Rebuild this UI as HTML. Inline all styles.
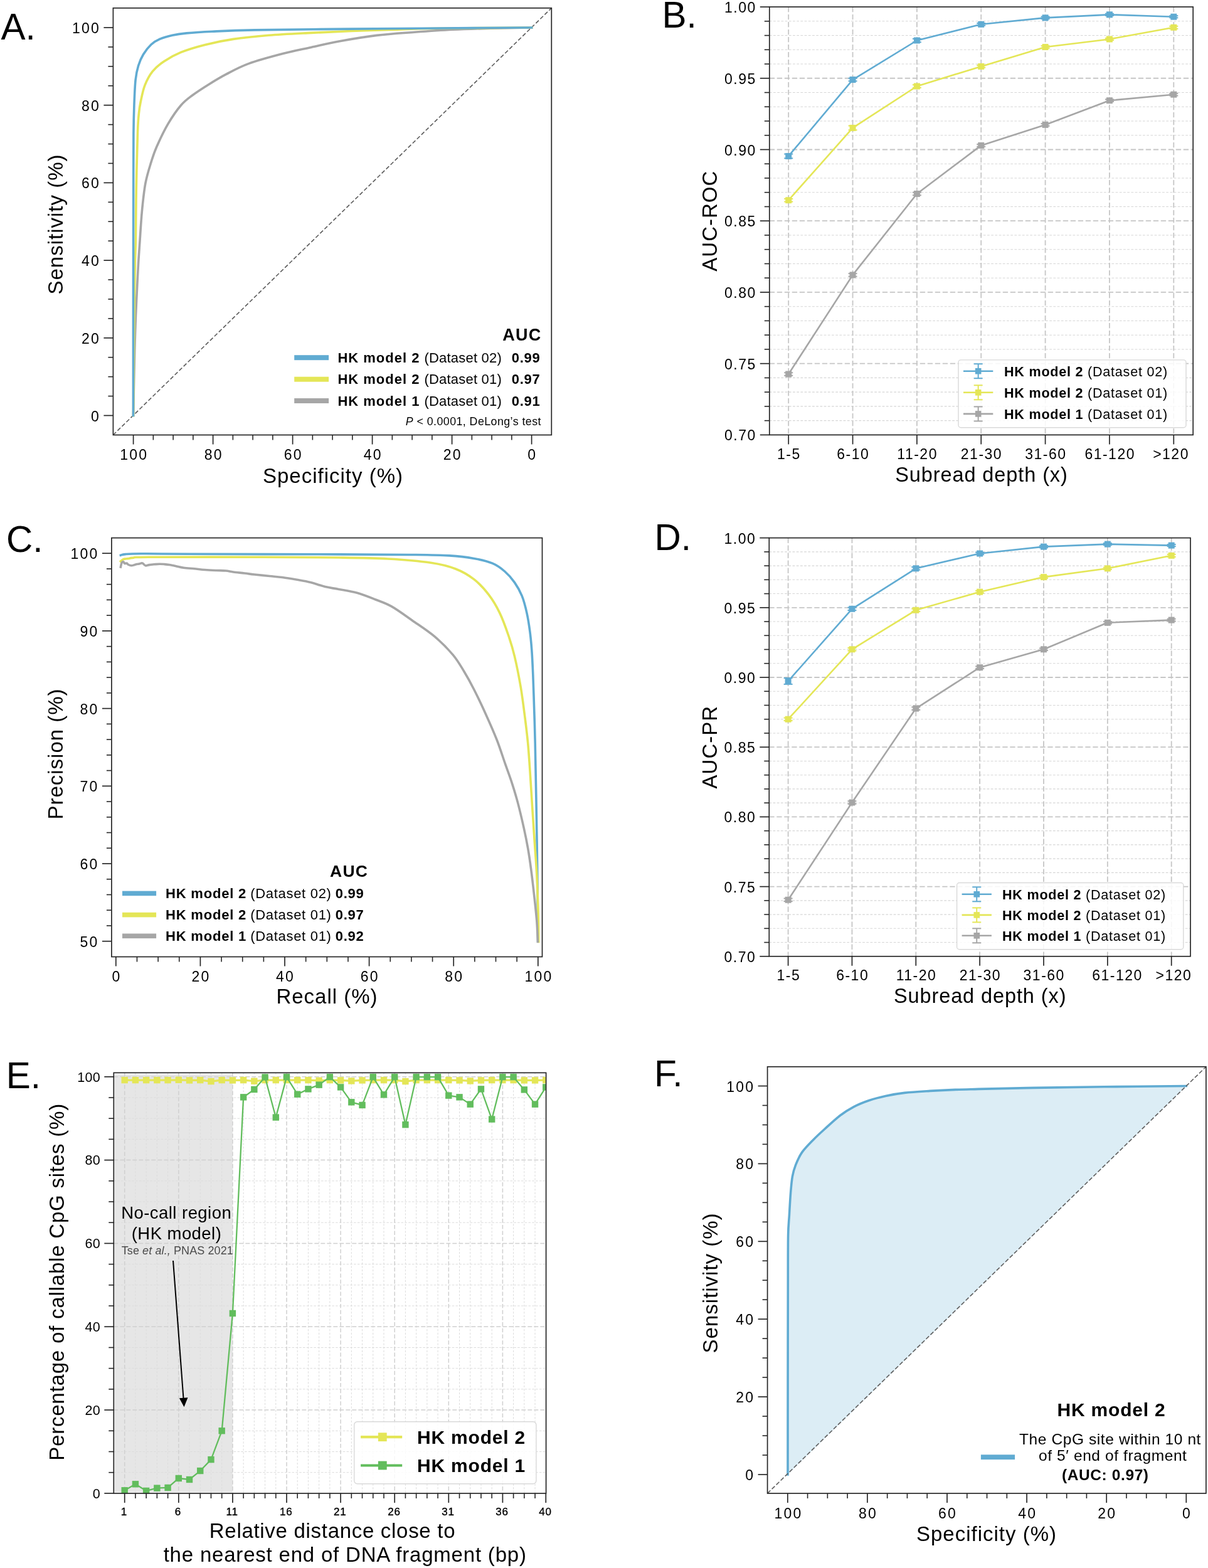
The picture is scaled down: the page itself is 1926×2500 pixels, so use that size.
<!DOCTYPE html>
<html><head><meta charset="utf-8"><title>Figure</title>
<style>html,body{margin:0;padding:0;background:#fff;overflow:hidden;width:1926px;height:2500px;}svg{display:block;}text{font-family:'Liberation Sans', Arial, sans-serif;}</style>
</head><body>
<svg width="1926" height="2500" viewBox="0 0 1926 2500">
<rect x="0" y="0" width="1926" height="2500" fill="#ffffff"/>
<line x1="180.4" y1="693.5" x2="879.3" y2="12.8" stroke="#5a5a5a" stroke-width="1.6" stroke-dasharray="6.4,3.4"/>
<path d="M212.6,662.5 C212.7,657.08 212.95,642.75 213.2,630 C213.45,617.25 213.78,600.2 214.1,586 C214.42,571.8 214.7,558.53 215.1,544.8 C215.5,531.07 215.95,517.33 216.5,503.6 C217.05,489.87 217.73,476.13 218.4,462.4 C219.07,448.67 219.8,433.27 220.5,421.2 C221.2,409.13 221.63,403.97 222.6,390 C223.57,376.03 224.75,353.7 226.3,337.4 C227.85,321.1 229.45,305.37 231.9,292.2 C234.35,279.03 237.98,268.18 241,258.4 C244.02,248.62 245.5,243.67 250,233.5 C254.5,223.33 261.6,208.32 268,197.4 C274.4,186.48 282,175.53 288.4,168 C294.8,160.47 298.88,157.83 306.4,152.2 C313.92,146.57 324.47,139.83 333.5,134.2 C342.53,128.57 350.07,123.87 360.6,118.4 C371.13,112.93 381.65,106.87 396.7,101.4 C411.75,95.93 434.33,89.92 450.9,85.6 C467.47,81.28 481.25,78.77 496.1,75.5 C510.95,72.23 522.58,69.18 540,66 C557.42,62.82 580.43,58.85 600.6,56.4 C620.77,53.95 640.8,52.82 661,51.3 C681.2,49.78 701.57,48.3 721.8,47.3 C742.03,46.3 761.43,45.85 782.4,45.3 C803.37,44.75 836.73,44.22 847.6,44" fill="none" stroke="#a6a6a6" stroke-width="3.6" stroke-linecap="square" stroke-linejoin="round"/>
<path d="M212.6,662.5 C212.73,645.42 213.13,590.42 213.4,560 C213.67,529.58 213.88,503.33 214.2,480 C214.52,456.67 214.93,436.67 215.3,420 C215.67,403.33 216.07,400 216.4,380 C216.73,360 216.78,328.33 217.3,300 C217.82,271.67 218.8,230 219.5,210 C220.2,190 220.75,187.75 221.5,180 C222.25,172.25 222.45,170.77 224,163.5 C225.55,156.23 227.6,144.67 230.8,136.4 C234,128.13 238.12,120.3 243.2,113.9 C248.28,107.5 253.77,103.08 261.3,98 C268.83,92.92 277.48,87.83 288.4,83.4 C299.32,78.97 312.88,74.9 326.8,71.4 C340.72,67.9 354.97,64.92 371.9,62.4 C388.83,59.88 407.7,57.97 428.4,56.3 C449.1,54.63 474.17,53.53 496.1,52.4 C518.03,51.27 539.35,50.32 560,49.5 C580.65,48.68 596.4,48.2 620,47.5 C643.6,46.8 663.67,45.88 701.6,45.3 C739.53,44.72 823.27,44.22 847.6,44" fill="none" stroke="#e4e657" stroke-width="3.6" stroke-linecap="square" stroke-linejoin="round"/>
<path d="M212.4,662.5 C212.42,627.08 212.45,510.42 212.5,450 C212.55,389.58 212.63,339.5 212.7,300 C212.77,260.5 212.7,235 212.9,213 C213.1,191 213.37,182.27 213.9,168 C214.43,153.73 214.98,137.93 216.1,127.4 C217.22,116.87 218.53,111.57 220.6,104.8 C222.67,98.03 225.1,92.43 228.5,86.8 C231.9,81.17 236.67,75.07 241,71 C245.33,66.93 248.87,64.85 254.5,62.4 C260.13,59.95 267.65,57.88 274.8,56.3 C281.95,54.72 286.87,53.92 297.4,52.9 C307.93,51.88 319.93,51.03 338,50.2 C356.07,49.37 368.8,48.58 405.8,47.9 C442.8,47.22 510.97,46.58 560,46.1 C609.03,45.62 652.07,45.35 700,45 C747.93,44.65 823,44.17 847.6,44" fill="none" stroke="#60abd2" stroke-width="3.6" stroke-linecap="square" stroke-linejoin="round"/>
<rect x="180.4" y="12.8" width="698.9" height="680.7" fill="none" stroke="#262626" stroke-width="1.7" />
<line x1="212.6" y1="693.5" x2="212.6" y2="708.5" stroke="#262626" stroke-width="1.7" />
<text x="213.7" y="732.5" font-size="23" text-anchor="middle" letter-spacing="2.2" fill="#000" >100</text>
<line x1="339.6" y1="693.5" x2="339.6" y2="708.5" stroke="#262626" stroke-width="1.7" />
<text x="340.7" y="732.5" font-size="23" text-anchor="middle" letter-spacing="2.2" fill="#000" >80</text>
<line x1="466.6" y1="693.5" x2="466.6" y2="708.5" stroke="#262626" stroke-width="1.7" />
<text x="467.7" y="732.5" font-size="23" text-anchor="middle" letter-spacing="2.2" fill="#000" >60</text>
<line x1="593.6" y1="693.5" x2="593.6" y2="708.5" stroke="#262626" stroke-width="1.7" />
<text x="594.7" y="732.5" font-size="23" text-anchor="middle" letter-spacing="2.2" fill="#000" >40</text>
<line x1="720.6" y1="693.5" x2="720.6" y2="708.5" stroke="#262626" stroke-width="1.7" />
<text x="721.7" y="732.5" font-size="23" text-anchor="middle" letter-spacing="2.2" fill="#000" >20</text>
<line x1="847.6" y1="693.5" x2="847.6" y2="708.5" stroke="#262626" stroke-width="1.7" />
<text x="848.7" y="732.5" font-size="23" text-anchor="middle" letter-spacing="2.2" fill="#000" >0</text>
<line x1="244.35" y1="693.5" x2="244.35" y2="701.5" stroke="#262626" stroke-width="1.6" />
<line x1="276.1" y1="693.5" x2="276.1" y2="701.5" stroke="#262626" stroke-width="1.6" />
<line x1="307.85" y1="693.5" x2="307.85" y2="701.5" stroke="#262626" stroke-width="1.6" />
<line x1="371.35" y1="693.5" x2="371.35" y2="701.5" stroke="#262626" stroke-width="1.6" />
<line x1="403.1" y1="693.5" x2="403.1" y2="701.5" stroke="#262626" stroke-width="1.6" />
<line x1="434.85" y1="693.5" x2="434.85" y2="701.5" stroke="#262626" stroke-width="1.6" />
<line x1="498.35" y1="693.5" x2="498.35" y2="701.5" stroke="#262626" stroke-width="1.6" />
<line x1="530.1" y1="693.5" x2="530.1" y2="701.5" stroke="#262626" stroke-width="1.6" />
<line x1="561.85" y1="693.5" x2="561.85" y2="701.5" stroke="#262626" stroke-width="1.6" />
<line x1="625.35" y1="693.5" x2="625.35" y2="701.5" stroke="#262626" stroke-width="1.6" />
<line x1="657.1" y1="693.5" x2="657.1" y2="701.5" stroke="#262626" stroke-width="1.6" />
<line x1="688.85" y1="693.5" x2="688.85" y2="701.5" stroke="#262626" stroke-width="1.6" />
<line x1="752.35" y1="693.5" x2="752.35" y2="701.5" stroke="#262626" stroke-width="1.6" />
<line x1="784.1" y1="693.5" x2="784.1" y2="701.5" stroke="#262626" stroke-width="1.6" />
<line x1="815.85" y1="693.5" x2="815.85" y2="701.5" stroke="#262626" stroke-width="1.6" />
<line x1="165.4" y1="662.5" x2="180.4" y2="662.5" stroke="#262626" stroke-width="1.7" />
<text x="160.1" y="671.5" font-size="23" text-anchor="end" letter-spacing="2.2" fill="#000" >0</text>
<line x1="165.4" y1="538.8" x2="180.4" y2="538.8" stroke="#262626" stroke-width="1.7" />
<text x="160.1" y="547.8" font-size="23" text-anchor="end" letter-spacing="2.2" fill="#000" >20</text>
<line x1="165.4" y1="415.1" x2="180.4" y2="415.1" stroke="#262626" stroke-width="1.7" />
<text x="160.1" y="424.1" font-size="23" text-anchor="end" letter-spacing="2.2" fill="#000" >40</text>
<line x1="165.4" y1="291.4" x2="180.4" y2="291.4" stroke="#262626" stroke-width="1.7" />
<text x="160.1" y="300.4" font-size="23" text-anchor="end" letter-spacing="2.2" fill="#000" >60</text>
<line x1="165.4" y1="167.7" x2="180.4" y2="167.7" stroke="#262626" stroke-width="1.7" />
<text x="160.1" y="176.7" font-size="23" text-anchor="end" letter-spacing="2.2" fill="#000" >80</text>
<line x1="165.4" y1="44" x2="180.4" y2="44" stroke="#262626" stroke-width="1.7" />
<text x="160.1" y="53" font-size="23" text-anchor="end" letter-spacing="2.2" fill="#000" >100</text>
<line x1="172.4" y1="631.58" x2="180.4" y2="631.58" stroke="#262626" stroke-width="1.6" />
<line x1="172.4" y1="600.65" x2="180.4" y2="600.65" stroke="#262626" stroke-width="1.6" />
<line x1="172.4" y1="569.73" x2="180.4" y2="569.73" stroke="#262626" stroke-width="1.6" />
<line x1="172.4" y1="507.88" x2="180.4" y2="507.88" stroke="#262626" stroke-width="1.6" />
<line x1="172.4" y1="476.95" x2="180.4" y2="476.95" stroke="#262626" stroke-width="1.6" />
<line x1="172.4" y1="446.02" x2="180.4" y2="446.02" stroke="#262626" stroke-width="1.6" />
<line x1="172.4" y1="384.18" x2="180.4" y2="384.18" stroke="#262626" stroke-width="1.6" />
<line x1="172.4" y1="353.25" x2="180.4" y2="353.25" stroke="#262626" stroke-width="1.6" />
<line x1="172.4" y1="322.33" x2="180.4" y2="322.33" stroke="#262626" stroke-width="1.6" />
<line x1="172.4" y1="260.48" x2="180.4" y2="260.48" stroke="#262626" stroke-width="1.6" />
<line x1="172.4" y1="229.55" x2="180.4" y2="229.55" stroke="#262626" stroke-width="1.6" />
<line x1="172.4" y1="198.63" x2="180.4" y2="198.63" stroke="#262626" stroke-width="1.6" />
<line x1="172.4" y1="136.77" x2="180.4" y2="136.77" stroke="#262626" stroke-width="1.6" />
<line x1="172.4" y1="105.85" x2="180.4" y2="105.85" stroke="#262626" stroke-width="1.6" />
<line x1="172.4" y1="74.93" x2="180.4" y2="74.93" stroke="#262626" stroke-width="1.6" />
<text x="1.5" y="63" font-size="58.5" text-anchor="start" fill="#000" >A.</text>
<text x="100" y="357.5" font-size="33" text-anchor="middle" letter-spacing="1" fill="#000" transform="rotate(-90 100 357.5)" >Sensitivity (%)</text>
<text x="531" y="770" font-size="33" text-anchor="middle" letter-spacing="1" fill="#000" >Specificity (%)</text>
<text x="863.6" y="543" font-size="27" font-weight="bold" text-anchor="end" letter-spacing="1.3" fill="#000" >AUC</text>
<rect x="469.2" y="566.2" width="54.9" height="8" fill="#60abd2" stroke="none" stroke-width="1" />
<text x="538.4" y="578" font-size="22" font-weight="bold" text-anchor="start" letter-spacing="1" fill="#000" >HK model 2</text>
<text x="676.5" y="578" font-size="22" text-anchor="start" letter-spacing="0.2" fill="#000" >(Dataset 02)</text>
<text x="815.8" y="578" font-size="22" font-weight="bold" text-anchor="start" letter-spacing="0.7" fill="#000" >0.99</text>
<rect x="469.2" y="600.7" width="54.9" height="8" fill="#e4e657" stroke="none" stroke-width="1" />
<text x="538.4" y="612.4" font-size="22" font-weight="bold" text-anchor="start" letter-spacing="1" fill="#000" >HK model 2</text>
<text x="676.5" y="612.4" font-size="22" text-anchor="start" letter-spacing="0.2" fill="#000" >(Dataset 01)</text>
<text x="815.8" y="612.4" font-size="22" font-weight="bold" text-anchor="start" letter-spacing="0.7" fill="#000" >0.97</text>
<rect x="469.2" y="635" width="54.9" height="8" fill="#a6a6a6" stroke="none" stroke-width="1" />
<text x="538.4" y="647" font-size="22" font-weight="bold" text-anchor="start" letter-spacing="1" fill="#000" >HK model 1</text>
<text x="676.5" y="647" font-size="22" text-anchor="start" letter-spacing="0.2" fill="#000" >(Dataset 01)</text>
<text x="815.8" y="647" font-size="22" font-weight="bold" text-anchor="start" letter-spacing="0.7" fill="#000" >0.91</text>
<text x="862.9" y="678" font-size="17.8" text-anchor="end" letter-spacing="0.45" fill="#000" ><tspan font-style="italic">P</tspan> &lt; 0.0001, DeLong’s test</text>
<line x1="1226.8" y1="670.65" x2="1902.2" y2="670.65" stroke="#d6d6d6" stroke-width="1.1" stroke-dasharray="3.8,2.4"/>
<line x1="1226.8" y1="647.91" x2="1902.2" y2="647.91" stroke="#d6d6d6" stroke-width="1.1" stroke-dasharray="3.8,2.4"/>
<line x1="1226.8" y1="625.16" x2="1902.2" y2="625.16" stroke="#d6d6d6" stroke-width="1.1" stroke-dasharray="3.8,2.4"/>
<line x1="1226.8" y1="602.42" x2="1902.2" y2="602.42" stroke="#d6d6d6" stroke-width="1.1" stroke-dasharray="3.8,2.4"/>
<line x1="1226.8" y1="556.93" x2="1902.2" y2="556.93" stroke="#d6d6d6" stroke-width="1.1" stroke-dasharray="3.8,2.4"/>
<line x1="1226.8" y1="534.18" x2="1902.2" y2="534.18" stroke="#d6d6d6" stroke-width="1.1" stroke-dasharray="3.8,2.4"/>
<line x1="1226.8" y1="511.44" x2="1902.2" y2="511.44" stroke="#d6d6d6" stroke-width="1.1" stroke-dasharray="3.8,2.4"/>
<line x1="1226.8" y1="488.69" x2="1902.2" y2="488.69" stroke="#d6d6d6" stroke-width="1.1" stroke-dasharray="3.8,2.4"/>
<line x1="1226.8" y1="443.2" x2="1902.2" y2="443.2" stroke="#d6d6d6" stroke-width="1.1" stroke-dasharray="3.8,2.4"/>
<line x1="1226.8" y1="420.46" x2="1902.2" y2="420.46" stroke="#d6d6d6" stroke-width="1.1" stroke-dasharray="3.8,2.4"/>
<line x1="1226.8" y1="397.71" x2="1902.2" y2="397.71" stroke="#d6d6d6" stroke-width="1.1" stroke-dasharray="3.8,2.4"/>
<line x1="1226.8" y1="374.97" x2="1902.2" y2="374.97" stroke="#d6d6d6" stroke-width="1.1" stroke-dasharray="3.8,2.4"/>
<line x1="1226.8" y1="329.48" x2="1902.2" y2="329.48" stroke="#d6d6d6" stroke-width="1.1" stroke-dasharray="3.8,2.4"/>
<line x1="1226.8" y1="306.73" x2="1902.2" y2="306.73" stroke="#d6d6d6" stroke-width="1.1" stroke-dasharray="3.8,2.4"/>
<line x1="1226.8" y1="283.99" x2="1902.2" y2="283.99" stroke="#d6d6d6" stroke-width="1.1" stroke-dasharray="3.8,2.4"/>
<line x1="1226.8" y1="261.24" x2="1902.2" y2="261.24" stroke="#d6d6d6" stroke-width="1.1" stroke-dasharray="3.8,2.4"/>
<line x1="1226.8" y1="215.75" x2="1902.2" y2="215.75" stroke="#d6d6d6" stroke-width="1.1" stroke-dasharray="3.8,2.4"/>
<line x1="1226.8" y1="193.01" x2="1902.2" y2="193.01" stroke="#d6d6d6" stroke-width="1.1" stroke-dasharray="3.8,2.4"/>
<line x1="1226.8" y1="170.26" x2="1902.2" y2="170.26" stroke="#d6d6d6" stroke-width="1.1" stroke-dasharray="3.8,2.4"/>
<line x1="1226.8" y1="147.52" x2="1902.2" y2="147.52" stroke="#d6d6d6" stroke-width="1.1" stroke-dasharray="3.8,2.4"/>
<line x1="1226.8" y1="102.03" x2="1902.2" y2="102.03" stroke="#d6d6d6" stroke-width="1.1" stroke-dasharray="3.8,2.4"/>
<line x1="1226.8" y1="79.28" x2="1902.2" y2="79.28" stroke="#d6d6d6" stroke-width="1.1" stroke-dasharray="3.8,2.4"/>
<line x1="1226.8" y1="56.54" x2="1902.2" y2="56.54" stroke="#d6d6d6" stroke-width="1.1" stroke-dasharray="3.8,2.4"/>
<line x1="1226.8" y1="33.79" x2="1902.2" y2="33.79" stroke="#d6d6d6" stroke-width="1.1" stroke-dasharray="3.8,2.4"/>
<line x1="1226.8" y1="579.67" x2="1902.2" y2="579.67" stroke="#c6c6c6" stroke-width="1.8" stroke-dasharray="8.3,3.7"/>
<line x1="1226.8" y1="465.95" x2="1902.2" y2="465.95" stroke="#c6c6c6" stroke-width="1.8" stroke-dasharray="8.3,3.7"/>
<line x1="1226.8" y1="352.22" x2="1902.2" y2="352.22" stroke="#c6c6c6" stroke-width="1.8" stroke-dasharray="8.3,3.7"/>
<line x1="1226.8" y1="238.5" x2="1902.2" y2="238.5" stroke="#c6c6c6" stroke-width="1.8" stroke-dasharray="8.3,3.7"/>
<line x1="1226.8" y1="124.77" x2="1902.2" y2="124.77" stroke="#c6c6c6" stroke-width="1.8" stroke-dasharray="8.3,3.7"/>
<line x1="1257.2" y1="11" x2="1257.2" y2="693.4" stroke="#c6c6c6" stroke-width="1.8" stroke-dasharray="8.3,3.7"/>
<line x1="1359.55" y1="11" x2="1359.55" y2="693.4" stroke="#c6c6c6" stroke-width="1.8" stroke-dasharray="8.3,3.7"/>
<line x1="1461.9" y1="11" x2="1461.9" y2="693.4" stroke="#c6c6c6" stroke-width="1.8" stroke-dasharray="8.3,3.7"/>
<line x1="1564.25" y1="11" x2="1564.25" y2="693.4" stroke="#c6c6c6" stroke-width="1.8" stroke-dasharray="8.3,3.7"/>
<line x1="1666.6" y1="11" x2="1666.6" y2="693.4" stroke="#c6c6c6" stroke-width="1.8" stroke-dasharray="8.3,3.7"/>
<line x1="1768.95" y1="11" x2="1768.95" y2="693.4" stroke="#c6c6c6" stroke-width="1.8" stroke-dasharray="8.3,3.7"/>
<line x1="1871.3" y1="11" x2="1871.3" y2="693.4" stroke="#c6c6c6" stroke-width="1.8" stroke-dasharray="8.3,3.7"/>
<path d="M1257.2,596.51 L1359.55,438.43 L1461.9,309.01 L1564.25,231.9 L1666.6,198.92 L1768.95,160.26 L1871.3,150.7" fill="none" stroke="#a6a6a6" stroke-width="2.6" stroke-linejoin="round"/>
<line x1="1257.2" y1="594.23" x2="1257.2" y2="598.78" stroke="#a6a6a6" stroke-width="2" />
<line x1="1250.2" y1="594.23" x2="1264.2" y2="594.23" stroke="#a6a6a6" stroke-width="2" />
<line x1="1250.2" y1="598.78" x2="1264.2" y2="598.78" stroke="#a6a6a6" stroke-width="2" />
<rect x="1252.2" y="591.51" width="10" height="10" fill="#a6a6a6" stroke="none" stroke-width="1" />
<line x1="1359.55" y1="436.15" x2="1359.55" y2="440.7" stroke="#a6a6a6" stroke-width="2" />
<line x1="1352.55" y1="436.15" x2="1366.55" y2="436.15" stroke="#a6a6a6" stroke-width="2" />
<line x1="1352.55" y1="440.7" x2="1366.55" y2="440.7" stroke="#a6a6a6" stroke-width="2" />
<rect x="1354.55" y="433.43" width="10" height="10" fill="#a6a6a6" stroke="none" stroke-width="1" />
<line x1="1461.9" y1="306.73" x2="1461.9" y2="311.28" stroke="#a6a6a6" stroke-width="2" />
<line x1="1454.9" y1="306.73" x2="1468.9" y2="306.73" stroke="#a6a6a6" stroke-width="2" />
<line x1="1454.9" y1="311.28" x2="1468.9" y2="311.28" stroke="#a6a6a6" stroke-width="2" />
<rect x="1456.9" y="304.01" width="10" height="10" fill="#a6a6a6" stroke="none" stroke-width="1" />
<line x1="1564.25" y1="230.08" x2="1564.25" y2="233.72" stroke="#a6a6a6" stroke-width="2" />
<line x1="1557.25" y1="230.08" x2="1571.25" y2="230.08" stroke="#a6a6a6" stroke-width="2" />
<line x1="1557.25" y1="233.72" x2="1571.25" y2="233.72" stroke="#a6a6a6" stroke-width="2" />
<rect x="1559.25" y="226.9" width="10" height="10" fill="#a6a6a6" stroke="none" stroke-width="1" />
<line x1="1666.6" y1="197.1" x2="1666.6" y2="200.74" stroke="#a6a6a6" stroke-width="2" />
<line x1="1659.6" y1="197.1" x2="1673.6" y2="197.1" stroke="#a6a6a6" stroke-width="2" />
<line x1="1659.6" y1="200.74" x2="1673.6" y2="200.74" stroke="#a6a6a6" stroke-width="2" />
<rect x="1661.6" y="193.92" width="10" height="10" fill="#a6a6a6" stroke="none" stroke-width="1" />
<line x1="1768.95" y1="158.44" x2="1768.95" y2="162.08" stroke="#a6a6a6" stroke-width="2" />
<line x1="1761.95" y1="158.44" x2="1775.95" y2="158.44" stroke="#a6a6a6" stroke-width="2" />
<line x1="1761.95" y1="162.08" x2="1775.95" y2="162.08" stroke="#a6a6a6" stroke-width="2" />
<rect x="1763.95" y="155.26" width="10" height="10" fill="#a6a6a6" stroke="none" stroke-width="1" />
<line x1="1871.3" y1="148.88" x2="1871.3" y2="152.52" stroke="#a6a6a6" stroke-width="2" />
<line x1="1864.3" y1="148.88" x2="1878.3" y2="148.88" stroke="#a6a6a6" stroke-width="2" />
<line x1="1864.3" y1="152.52" x2="1878.3" y2="152.52" stroke="#a6a6a6" stroke-width="2" />
<rect x="1866.3" y="145.7" width="10" height="10" fill="#a6a6a6" stroke="none" stroke-width="1" />
<path d="M1257.2,319.24 L1359.55,203.93 L1461.9,137.51 L1564.25,105.9 L1666.6,74.96 L1768.95,62.45 L1871.3,43.8" fill="none" stroke="#e4e657" stroke-width="2.6" stroke-linejoin="round"/>
<line x1="1257.2" y1="316.97" x2="1257.2" y2="321.52" stroke="#e4e657" stroke-width="2" />
<line x1="1250.2" y1="316.97" x2="1264.2" y2="316.97" stroke="#e4e657" stroke-width="2" />
<line x1="1250.2" y1="321.52" x2="1264.2" y2="321.52" stroke="#e4e657" stroke-width="2" />
<rect x="1252.2" y="314.24" width="10" height="10" fill="#e4e657" stroke="none" stroke-width="1" />
<line x1="1359.55" y1="200.52" x2="1359.55" y2="207.34" stroke="#e4e657" stroke-width="2" />
<line x1="1352.55" y1="200.52" x2="1366.55" y2="200.52" stroke="#e4e657" stroke-width="2" />
<line x1="1352.55" y1="207.34" x2="1366.55" y2="207.34" stroke="#e4e657" stroke-width="2" />
<rect x="1354.55" y="198.93" width="10" height="10" fill="#e4e657" stroke="none" stroke-width="1" />
<line x1="1461.9" y1="135.24" x2="1461.9" y2="139.79" stroke="#e4e657" stroke-width="2" />
<line x1="1454.9" y1="135.24" x2="1468.9" y2="135.24" stroke="#e4e657" stroke-width="2" />
<line x1="1454.9" y1="139.79" x2="1468.9" y2="139.79" stroke="#e4e657" stroke-width="2" />
<rect x="1456.9" y="132.51" width="10" height="10" fill="#e4e657" stroke="none" stroke-width="1" />
<line x1="1564.25" y1="104.08" x2="1564.25" y2="107.72" stroke="#e4e657" stroke-width="2" />
<line x1="1557.25" y1="104.08" x2="1571.25" y2="104.08" stroke="#e4e657" stroke-width="2" />
<line x1="1557.25" y1="107.72" x2="1571.25" y2="107.72" stroke="#e4e657" stroke-width="2" />
<rect x="1559.25" y="100.9" width="10" height="10" fill="#e4e657" stroke="none" stroke-width="1" />
<line x1="1666.6" y1="73.14" x2="1666.6" y2="76.78" stroke="#e4e657" stroke-width="2" />
<line x1="1659.6" y1="73.14" x2="1673.6" y2="73.14" stroke="#e4e657" stroke-width="2" />
<line x1="1659.6" y1="76.78" x2="1673.6" y2="76.78" stroke="#e4e657" stroke-width="2" />
<rect x="1661.6" y="69.96" width="10" height="10" fill="#e4e657" stroke="none" stroke-width="1" />
<line x1="1768.95" y1="60.86" x2="1768.95" y2="64.05" stroke="#e4e657" stroke-width="2" />
<line x1="1761.95" y1="60.86" x2="1775.95" y2="60.86" stroke="#e4e657" stroke-width="2" />
<line x1="1761.95" y1="64.05" x2="1775.95" y2="64.05" stroke="#e4e657" stroke-width="2" />
<rect x="1763.95" y="57.45" width="10" height="10" fill="#e4e657" stroke="none" stroke-width="1" />
<line x1="1871.3" y1="41.76" x2="1871.3" y2="45.85" stroke="#e4e657" stroke-width="2" />
<line x1="1864.3" y1="41.76" x2="1878.3" y2="41.76" stroke="#e4e657" stroke-width="2" />
<line x1="1864.3" y1="45.85" x2="1878.3" y2="45.85" stroke="#e4e657" stroke-width="2" />
<rect x="1866.3" y="38.8" width="10" height="10" fill="#e4e657" stroke="none" stroke-width="1" />
<path d="M1257.2,248.96 L1359.55,127.05 L1461.9,64.5 L1564.25,38.8 L1666.6,28.34 L1768.95,23.33 L1871.3,26.74" fill="none" stroke="#60abd2" stroke-width="2.6" stroke-linejoin="round"/>
<line x1="1257.2" y1="245.55" x2="1257.2" y2="252.37" stroke="#60abd2" stroke-width="2" />
<line x1="1250.2" y1="245.55" x2="1264.2" y2="245.55" stroke="#60abd2" stroke-width="2" />
<line x1="1250.2" y1="252.37" x2="1264.2" y2="252.37" stroke="#60abd2" stroke-width="2" />
<rect x="1252.2" y="243.96" width="10" height="10" fill="#60abd2" stroke="none" stroke-width="1" />
<line x1="1359.55" y1="124.77" x2="1359.55" y2="129.32" stroke="#60abd2" stroke-width="2" />
<line x1="1352.55" y1="124.77" x2="1366.55" y2="124.77" stroke="#60abd2" stroke-width="2" />
<line x1="1352.55" y1="129.32" x2="1366.55" y2="129.32" stroke="#60abd2" stroke-width="2" />
<rect x="1354.55" y="122.05" width="10" height="10" fill="#60abd2" stroke="none" stroke-width="1" />
<line x1="1461.9" y1="61.77" x2="1461.9" y2="67.23" stroke="#60abd2" stroke-width="2" />
<line x1="1454.9" y1="61.77" x2="1468.9" y2="61.77" stroke="#60abd2" stroke-width="2" />
<line x1="1454.9" y1="67.23" x2="1468.9" y2="67.23" stroke="#60abd2" stroke-width="2" />
<rect x="1456.9" y="59.5" width="10" height="10" fill="#60abd2" stroke="none" stroke-width="1" />
<line x1="1564.25" y1="36.98" x2="1564.25" y2="40.62" stroke="#60abd2" stroke-width="2" />
<line x1="1557.25" y1="36.98" x2="1571.25" y2="36.98" stroke="#60abd2" stroke-width="2" />
<line x1="1557.25" y1="40.62" x2="1571.25" y2="40.62" stroke="#60abd2" stroke-width="2" />
<rect x="1559.25" y="33.8" width="10" height="10" fill="#60abd2" stroke="none" stroke-width="1" />
<line x1="1666.6" y1="26.52" x2="1666.6" y2="30.16" stroke="#60abd2" stroke-width="2" />
<line x1="1659.6" y1="26.52" x2="1673.6" y2="26.52" stroke="#60abd2" stroke-width="2" />
<line x1="1659.6" y1="30.16" x2="1673.6" y2="30.16" stroke="#60abd2" stroke-width="2" />
<rect x="1661.6" y="23.34" width="10" height="10" fill="#60abd2" stroke="none" stroke-width="1" />
<line x1="1768.95" y1="21.74" x2="1768.95" y2="24.92" stroke="#60abd2" stroke-width="2" />
<line x1="1761.95" y1="21.74" x2="1775.95" y2="21.74" stroke="#60abd2" stroke-width="2" />
<line x1="1761.95" y1="24.92" x2="1775.95" y2="24.92" stroke="#60abd2" stroke-width="2" />
<rect x="1763.95" y="18.33" width="10" height="10" fill="#60abd2" stroke="none" stroke-width="1" />
<line x1="1871.3" y1="25.15" x2="1871.3" y2="28.34" stroke="#60abd2" stroke-width="2" />
<line x1="1864.3" y1="25.15" x2="1878.3" y2="25.15" stroke="#60abd2" stroke-width="2" />
<line x1="1864.3" y1="28.34" x2="1878.3" y2="28.34" stroke="#60abd2" stroke-width="2" />
<rect x="1866.3" y="21.74" width="10" height="10" fill="#60abd2" stroke="none" stroke-width="1" />
<rect x="1226.8" y="11" width="675.4" height="682.4" fill="none" stroke="#262626" stroke-width="1.7" />
<line x1="1257.2" y1="693.4" x2="1257.2" y2="708.4" stroke="#262626" stroke-width="1.7" />
<text x="1257.95" y="731.5" font-size="23" text-anchor="middle" letter-spacing="1.5" fill="#000" >1-5</text>
<line x1="1359.55" y1="693.4" x2="1359.55" y2="708.4" stroke="#262626" stroke-width="1.7" />
<text x="1360.3" y="731.5" font-size="23" text-anchor="middle" letter-spacing="1.5" fill="#000" >6-10</text>
<line x1="1461.9" y1="693.4" x2="1461.9" y2="708.4" stroke="#262626" stroke-width="1.7" />
<text x="1462.65" y="731.5" font-size="23" text-anchor="middle" letter-spacing="1.5" fill="#000" >11-20</text>
<line x1="1564.25" y1="693.4" x2="1564.25" y2="708.4" stroke="#262626" stroke-width="1.7" />
<text x="1565" y="731.5" font-size="23" text-anchor="middle" letter-spacing="1.5" fill="#000" >21-30</text>
<line x1="1666.6" y1="693.4" x2="1666.6" y2="708.4" stroke="#262626" stroke-width="1.7" />
<text x="1667.35" y="731.5" font-size="23" text-anchor="middle" letter-spacing="1.5" fill="#000" >31-60</text>
<line x1="1768.95" y1="693.4" x2="1768.95" y2="708.4" stroke="#262626" stroke-width="1.7" />
<text x="1769.7" y="731.5" font-size="23" text-anchor="middle" letter-spacing="1.5" fill="#000" >61-120</text>
<line x1="1871.3" y1="693.4" x2="1871.3" y2="708.4" stroke="#262626" stroke-width="1.7" />
<text x="1867.05" y="731.5" font-size="23" text-anchor="middle" letter-spacing="1.5" fill="#000" >&gt;120</text>
<line x1="1211.8" y1="693.4" x2="1226.8" y2="693.4" stroke="#262626" stroke-width="1.7" />
<text x="1205.8" y="702.4" font-size="23" text-anchor="end" letter-spacing="1.5" fill="#000" >0.70</text>
<line x1="1211.8" y1="579.67" x2="1226.8" y2="579.67" stroke="#262626" stroke-width="1.7" />
<text x="1205.8" y="588.67" font-size="23" text-anchor="end" letter-spacing="1.5" fill="#000" >0.75</text>
<line x1="1211.8" y1="465.95" x2="1226.8" y2="465.95" stroke="#262626" stroke-width="1.7" />
<text x="1205.8" y="474.95" font-size="23" text-anchor="end" letter-spacing="1.5" fill="#000" >0.80</text>
<line x1="1211.8" y1="352.22" x2="1226.8" y2="352.22" stroke="#262626" stroke-width="1.7" />
<text x="1205.8" y="361.22" font-size="23" text-anchor="end" letter-spacing="1.5" fill="#000" >0.85</text>
<line x1="1211.8" y1="238.5" x2="1226.8" y2="238.5" stroke="#262626" stroke-width="1.7" />
<text x="1205.8" y="247.5" font-size="23" text-anchor="end" letter-spacing="1.5" fill="#000" >0.90</text>
<line x1="1211.8" y1="124.77" x2="1226.8" y2="124.77" stroke="#262626" stroke-width="1.7" />
<text x="1205.8" y="133.77" font-size="23" text-anchor="end" letter-spacing="1.5" fill="#000" >0.95</text>
<line x1="1211.8" y1="11.05" x2="1226.8" y2="11.05" stroke="#262626" stroke-width="1.7" />
<text x="1205.8" y="20.05" font-size="23" text-anchor="end" letter-spacing="1.5" fill="#000" >1.00</text>
<line x1="1218.8" y1="670.65" x2="1226.8" y2="670.65" stroke="#262626" stroke-width="1.6" />
<line x1="1218.8" y1="647.91" x2="1226.8" y2="647.91" stroke="#262626" stroke-width="1.6" />
<line x1="1218.8" y1="625.16" x2="1226.8" y2="625.16" stroke="#262626" stroke-width="1.6" />
<line x1="1218.8" y1="602.42" x2="1226.8" y2="602.42" stroke="#262626" stroke-width="1.6" />
<line x1="1218.8" y1="556.93" x2="1226.8" y2="556.93" stroke="#262626" stroke-width="1.6" />
<line x1="1218.8" y1="534.18" x2="1226.8" y2="534.18" stroke="#262626" stroke-width="1.6" />
<line x1="1218.8" y1="511.44" x2="1226.8" y2="511.44" stroke="#262626" stroke-width="1.6" />
<line x1="1218.8" y1="488.69" x2="1226.8" y2="488.69" stroke="#262626" stroke-width="1.6" />
<line x1="1218.8" y1="443.2" x2="1226.8" y2="443.2" stroke="#262626" stroke-width="1.6" />
<line x1="1218.8" y1="420.46" x2="1226.8" y2="420.46" stroke="#262626" stroke-width="1.6" />
<line x1="1218.8" y1="397.71" x2="1226.8" y2="397.71" stroke="#262626" stroke-width="1.6" />
<line x1="1218.8" y1="374.97" x2="1226.8" y2="374.97" stroke="#262626" stroke-width="1.6" />
<line x1="1218.8" y1="329.48" x2="1226.8" y2="329.48" stroke="#262626" stroke-width="1.6" />
<line x1="1218.8" y1="306.73" x2="1226.8" y2="306.73" stroke="#262626" stroke-width="1.6" />
<line x1="1218.8" y1="283.99" x2="1226.8" y2="283.99" stroke="#262626" stroke-width="1.6" />
<line x1="1218.8" y1="261.24" x2="1226.8" y2="261.24" stroke="#262626" stroke-width="1.6" />
<line x1="1218.8" y1="215.75" x2="1226.8" y2="215.75" stroke="#262626" stroke-width="1.6" />
<line x1="1218.8" y1="193.01" x2="1226.8" y2="193.01" stroke="#262626" stroke-width="1.6" />
<line x1="1218.8" y1="170.26" x2="1226.8" y2="170.26" stroke="#262626" stroke-width="1.6" />
<line x1="1218.8" y1="147.52" x2="1226.8" y2="147.52" stroke="#262626" stroke-width="1.6" />
<line x1="1218.8" y1="102.03" x2="1226.8" y2="102.03" stroke="#262626" stroke-width="1.6" />
<line x1="1218.8" y1="79.28" x2="1226.8" y2="79.28" stroke="#262626" stroke-width="1.6" />
<line x1="1218.8" y1="56.54" x2="1226.8" y2="56.54" stroke="#262626" stroke-width="1.6" />
<line x1="1218.8" y1="33.79" x2="1226.8" y2="33.79" stroke="#262626" stroke-width="1.6" />
<text x="1055.5" y="43.7" font-size="58.5" text-anchor="start" fill="#000" >B.</text>
<text x="1143.5" y="352.2" font-size="33" text-anchor="middle" letter-spacing="1" fill="#000" transform="rotate(-90 1143.5 352.2)" >AUC-ROC</text>
<text x="1565" y="768.3" font-size="32.5" text-anchor="middle" letter-spacing="0.9" fill="#000" >Subread depth (x)</text>
<rect x="1528" y="573.9" width="363" height="107.9" fill="#ffffff" stroke="#d9d9d9" stroke-width="1.4" rx="4" fill-opacity="0.85"/>
<line x1="1536" y1="591.7" x2="1583.3" y2="591.7" stroke="#60abd2" stroke-width="2.6" />
<line x1="1559.65" y1="580.2" x2="1559.65" y2="603.2" stroke="#60abd2" stroke-width="2" />
<line x1="1552.65" y1="580.2" x2="1566.65" y2="580.2" stroke="#60abd2" stroke-width="2" />
<line x1="1552.65" y1="603.2" x2="1566.65" y2="603.2" stroke="#60abd2" stroke-width="2" />
<rect x="1554.85" y="586.9" width="9.6" height="9.6" fill="#60abd2" stroke="none" stroke-width="1" />
<text x="1601" y="599.7" font-size="21.6" text-anchor="start" letter-spacing="0.75" fill="#000" ><tspan font-weight="bold">HK model 2</tspan> (Dataset 02)</text>
<line x1="1536" y1="625.8" x2="1583.3" y2="625.8" stroke="#e4e657" stroke-width="2.6" />
<line x1="1559.65" y1="614.3" x2="1559.65" y2="637.3" stroke="#e4e657" stroke-width="2" />
<line x1="1552.65" y1="614.3" x2="1566.65" y2="614.3" stroke="#e4e657" stroke-width="2" />
<line x1="1552.65" y1="637.3" x2="1566.65" y2="637.3" stroke="#e4e657" stroke-width="2" />
<rect x="1554.85" y="621" width="9.6" height="9.6" fill="#e4e657" stroke="none" stroke-width="1" />
<text x="1601" y="633.8" font-size="21.6" text-anchor="start" letter-spacing="0.75" fill="#000" ><tspan font-weight="bold">HK model 2</tspan> (Dataset 01)</text>
<line x1="1536" y1="659.9" x2="1583.3" y2="659.9" stroke="#a6a6a6" stroke-width="2.6" />
<line x1="1559.65" y1="648.4" x2="1559.65" y2="671.4" stroke="#a6a6a6" stroke-width="2" />
<line x1="1552.65" y1="648.4" x2="1566.65" y2="648.4" stroke="#a6a6a6" stroke-width="2" />
<line x1="1552.65" y1="671.4" x2="1566.65" y2="671.4" stroke="#a6a6a6" stroke-width="2" />
<rect x="1554.85" y="655.1" width="9.6" height="9.6" fill="#a6a6a6" stroke="none" stroke-width="1" />
<text x="1601" y="667.9" font-size="21.6" text-anchor="start" letter-spacing="0.75" fill="#000" ><tspan font-weight="bold">HK model 1</tspan> (Dataset 01)</text>
<path d="M192.4,885.3 C193.67,885.02 194.53,884.02 200,883.6 C205.47,883.18 208.53,882.85 225.2,882.8 C241.87,882.75 247.53,883.12 300,883.3 C352.47,883.48 480.4,883.7 540,883.9 C599.6,884.1 628.18,884.17 657.6,884.5 C687.02,884.83 700.15,884.92 716.5,885.9 C732.85,886.88 744.27,888.35 755.7,890.4 C767.13,892.45 776.93,894.77 785.1,898.2 C793.27,901.63 798.82,905.93 804.7,911 C810.58,916.07 815.82,922.07 820.4,928.6 C824.98,935.13 828.93,942.03 832.2,950.2 C835.47,958.37 837.88,968.13 840,977.6 C842.12,987.07 843.6,997.18 844.9,1007 C846.2,1016.82 846.98,1025.05 847.8,1036.5 C848.62,1047.95 849.13,1059.37 849.8,1075.7 C850.47,1092.03 851.23,1116.28 851.8,1134.5 C852.37,1152.72 852.67,1160.92 853.2,1185 C853.73,1209.08 854.4,1244.12 855,1279 C855.6,1313.88 856.37,1357.3 856.8,1394.3 C857.23,1431.3 857.47,1483.22 857.6,1501" fill="none" stroke="#60abd2" stroke-width="3.6" stroke-linecap="square" stroke-linejoin="round"/>
<path d="M192.4,895 C193,894.5 194.73,892.67 196,892 C197.27,891.33 198.5,891.25 200,891 C201.5,890.75 203.07,890.77 205,890.5 C206.93,890.23 206.37,889.78 211.6,889.4 C216.83,889.02 205,888.4 236.4,888.2 C267.8,888 349.4,888.07 400,888.2 C450.6,888.33 503.6,888.53 540,889 C576.4,889.47 593.9,889.62 618.4,891 C642.9,892.38 669.02,894.63 687,897.3 C704.98,899.97 714.85,902.6 726.3,907 C737.75,911.4 746.88,916.83 755.7,923.7 C764.52,930.57 772.33,939.22 779.2,948.2 C786.07,957.18 791.67,966.8 796.9,977.6 C802.13,988.4 806.68,1001.55 810.6,1013 C814.52,1024.45 817.13,1032.58 820.4,1046.3 C823.67,1060.02 827.43,1078.97 830.2,1095.3 C832.97,1111.63 835.08,1129.35 837,1144.3 C838.92,1159.25 840.37,1170.82 841.7,1185 C843.03,1199.18 843.75,1211 845,1229.4 C846.25,1247.8 847.95,1276.17 849.2,1295.4 C850.45,1314.63 851.4,1328.32 852.5,1344.8 C853.6,1361.28 854.85,1375.07 855.8,1394.3 C856.75,1413.53 857.73,1442.35 858.2,1460.2 C858.67,1478.05 858.53,1494.53 858.6,1501.4" fill="none" stroke="#e4e657" stroke-width="3.6" stroke-linecap="square" stroke-linejoin="round"/>
<path d="M192.4,904 C192.67,902.92 193.32,898.92 194,897.5 C194.68,896.08 195.67,895.33 196.5,895.5 C197.33,895.67 198.08,898.08 199,898.5 C199.92,898.92 201,897.67 202,898 C203,898.33 203.77,899.87 205,900.5 C206.23,901.13 207.9,901.75 209.4,901.8 C210.9,901.85 212.57,901.18 214,900.8 C215.43,900.42 216.67,899.8 218,899.5 C219.33,899.2 220.67,899.28 222,899 C223.33,898.72 225,897.88 226,897.8 C227,897.72 227,897.83 228,898.5 C229,899.17 230.33,901.45 232,901.8 C233.67,902.15 235.67,900.93 238,900.6 C240.33,900.27 243.25,900.03 246,899.8 C248.75,899.57 251.83,899.23 254.5,899.2 C257.17,899.17 259.42,899.38 262,899.6 C264.58,899.82 267,900.03 270,900.5 C273,900.97 276.18,901.62 280,902.4 C283.82,903.18 287.9,904.47 292.9,905.2 C297.9,905.93 304.35,906.25 310,906.8 C315.65,907.35 320.97,908.05 326.8,908.5 C332.63,908.95 339.47,909.25 345,909.5 C350.53,909.75 355.52,909.58 360,910 C364.48,910.42 366.9,911.33 371.9,912 C376.9,912.67 384.35,913.33 390,914 C395.65,914.67 399.13,915.25 405.8,916 C412.47,916.75 422.63,917.75 430,918.5 C437.37,919.25 442.75,919.53 450,920.5 C457.25,921.47 466,922.97 473.5,924.3 C481,925.63 487.47,926.62 495,928.5 C502.53,930.38 511.2,933.78 518.7,935.6 C526.2,937.42 531.55,937.78 540,939.4 C548.45,941.02 559.6,942.53 569.4,945.3 C579.2,948.07 589.65,952.4 598.8,956 C607.95,959.6 614.5,961.33 624.3,966.9 C634.1,972.47 646.15,981.4 657.6,989.4 C669.05,997.4 682.2,1005.75 693,1014.9 C703.8,1024.05 714.57,1034.98 722.4,1044.3 C730.23,1053.62 734.45,1061.65 740,1070.8 C745.55,1079.95 749.82,1087.6 755.7,1099.2 C761.58,1110.8 769.2,1126.93 775.3,1140.4 C781.4,1153.87 787.27,1167.08 792.3,1180 C797.33,1192.92 801.65,1206.92 805.5,1217.9 C809.35,1228.88 812.1,1235.73 815.4,1245.9 C818.7,1256.07 822,1266.53 825.3,1278.9 C828.6,1291.27 832.45,1307.73 835.2,1320.1 C837.95,1332.47 839.88,1342.12 841.8,1353.1 C843.72,1364.08 845.07,1373.65 846.7,1386 C848.33,1398.35 850.08,1413.47 851.6,1427.2 C853.12,1440.93 854.83,1456.03 855.8,1468.4 C856.77,1480.77 857.13,1495.9 857.4,1501.4" fill="none" stroke="#a6a6a6" stroke-width="3.6" stroke-linecap="square" stroke-linejoin="round"/>
<rect x="177.9" y="857.6" width="686.6" height="667.9" fill="none" stroke="#262626" stroke-width="1.7" />
<line x1="184.8" y1="1525.5" x2="184.8" y2="1540.5" stroke="#262626" stroke-width="1.7" />
<text x="185.9" y="1564.5" font-size="23" text-anchor="middle" letter-spacing="2.2" fill="#000" >0</text>
<line x1="319.4" y1="1525.5" x2="319.4" y2="1540.5" stroke="#262626" stroke-width="1.7" />
<text x="320.5" y="1564.5" font-size="23" text-anchor="middle" letter-spacing="2.2" fill="#000" >20</text>
<line x1="454" y1="1525.5" x2="454" y2="1540.5" stroke="#262626" stroke-width="1.7" />
<text x="455.1" y="1564.5" font-size="23" text-anchor="middle" letter-spacing="2.2" fill="#000" >40</text>
<line x1="588.6" y1="1525.5" x2="588.6" y2="1540.5" stroke="#262626" stroke-width="1.7" />
<text x="589.7" y="1564.5" font-size="23" text-anchor="middle" letter-spacing="2.2" fill="#000" >60</text>
<line x1="723.2" y1="1525.5" x2="723.2" y2="1540.5" stroke="#262626" stroke-width="1.7" />
<text x="724.3" y="1564.5" font-size="23" text-anchor="middle" letter-spacing="2.2" fill="#000" >80</text>
<line x1="857.8" y1="1525.5" x2="857.8" y2="1540.5" stroke="#262626" stroke-width="1.7" />
<text x="858.9" y="1564.5" font-size="23" text-anchor="middle" letter-spacing="2.2" fill="#000" >100</text>
<line x1="218.45" y1="1525.5" x2="218.45" y2="1533.5" stroke="#262626" stroke-width="1.6" />
<line x1="252.1" y1="1525.5" x2="252.1" y2="1533.5" stroke="#262626" stroke-width="1.6" />
<line x1="285.75" y1="1525.5" x2="285.75" y2="1533.5" stroke="#262626" stroke-width="1.6" />
<line x1="353.05" y1="1525.5" x2="353.05" y2="1533.5" stroke="#262626" stroke-width="1.6" />
<line x1="386.7" y1="1525.5" x2="386.7" y2="1533.5" stroke="#262626" stroke-width="1.6" />
<line x1="420.35" y1="1525.5" x2="420.35" y2="1533.5" stroke="#262626" stroke-width="1.6" />
<line x1="487.65" y1="1525.5" x2="487.65" y2="1533.5" stroke="#262626" stroke-width="1.6" />
<line x1="521.3" y1="1525.5" x2="521.3" y2="1533.5" stroke="#262626" stroke-width="1.6" />
<line x1="554.95" y1="1525.5" x2="554.95" y2="1533.5" stroke="#262626" stroke-width="1.6" />
<line x1="622.25" y1="1525.5" x2="622.25" y2="1533.5" stroke="#262626" stroke-width="1.6" />
<line x1="655.9" y1="1525.5" x2="655.9" y2="1533.5" stroke="#262626" stroke-width="1.6" />
<line x1="689.55" y1="1525.5" x2="689.55" y2="1533.5" stroke="#262626" stroke-width="1.6" />
<line x1="756.85" y1="1525.5" x2="756.85" y2="1533.5" stroke="#262626" stroke-width="1.6" />
<line x1="790.5" y1="1525.5" x2="790.5" y2="1533.5" stroke="#262626" stroke-width="1.6" />
<line x1="824.15" y1="1525.5" x2="824.15" y2="1533.5" stroke="#262626" stroke-width="1.6" />
<line x1="162.9" y1="1500.7" x2="177.9" y2="1500.7" stroke="#262626" stroke-width="1.7" />
<text x="157.6" y="1509.7" font-size="23" text-anchor="end" letter-spacing="2.2" fill="#000" >50</text>
<line x1="162.9" y1="1377" x2="177.9" y2="1377" stroke="#262626" stroke-width="1.7" />
<text x="157.6" y="1386" font-size="23" text-anchor="end" letter-spacing="2.2" fill="#000" >60</text>
<line x1="162.9" y1="1253.3" x2="177.9" y2="1253.3" stroke="#262626" stroke-width="1.7" />
<text x="157.6" y="1262.3" font-size="23" text-anchor="end" letter-spacing="2.2" fill="#000" >70</text>
<line x1="162.9" y1="1129.6" x2="177.9" y2="1129.6" stroke="#262626" stroke-width="1.7" />
<text x="157.6" y="1138.6" font-size="23" text-anchor="end" letter-spacing="2.2" fill="#000" >80</text>
<line x1="162.9" y1="1005.9" x2="177.9" y2="1005.9" stroke="#262626" stroke-width="1.7" />
<text x="157.6" y="1014.9" font-size="23" text-anchor="end" letter-spacing="2.2" fill="#000" >90</text>
<line x1="162.9" y1="882.2" x2="177.9" y2="882.2" stroke="#262626" stroke-width="1.7" />
<text x="157.6" y="891.2" font-size="23" text-anchor="end" letter-spacing="2.2" fill="#000" >100</text>
<line x1="169.9" y1="1475.96" x2="177.9" y2="1475.96" stroke="#262626" stroke-width="1.6" />
<line x1="169.9" y1="1451.22" x2="177.9" y2="1451.22" stroke="#262626" stroke-width="1.6" />
<line x1="169.9" y1="1426.48" x2="177.9" y2="1426.48" stroke="#262626" stroke-width="1.6" />
<line x1="169.9" y1="1401.74" x2="177.9" y2="1401.74" stroke="#262626" stroke-width="1.6" />
<line x1="169.9" y1="1352.26" x2="177.9" y2="1352.26" stroke="#262626" stroke-width="1.6" />
<line x1="169.9" y1="1327.52" x2="177.9" y2="1327.52" stroke="#262626" stroke-width="1.6" />
<line x1="169.9" y1="1302.78" x2="177.9" y2="1302.78" stroke="#262626" stroke-width="1.6" />
<line x1="169.9" y1="1278.04" x2="177.9" y2="1278.04" stroke="#262626" stroke-width="1.6" />
<line x1="169.9" y1="1228.56" x2="177.9" y2="1228.56" stroke="#262626" stroke-width="1.6" />
<line x1="169.9" y1="1203.82" x2="177.9" y2="1203.82" stroke="#262626" stroke-width="1.6" />
<line x1="169.9" y1="1179.08" x2="177.9" y2="1179.08" stroke="#262626" stroke-width="1.6" />
<line x1="169.9" y1="1154.34" x2="177.9" y2="1154.34" stroke="#262626" stroke-width="1.6" />
<line x1="169.9" y1="1104.86" x2="177.9" y2="1104.86" stroke="#262626" stroke-width="1.6" />
<line x1="169.9" y1="1080.12" x2="177.9" y2="1080.12" stroke="#262626" stroke-width="1.6" />
<line x1="169.9" y1="1055.38" x2="177.9" y2="1055.38" stroke="#262626" stroke-width="1.6" />
<line x1="169.9" y1="1030.64" x2="177.9" y2="1030.64" stroke="#262626" stroke-width="1.6" />
<line x1="169.9" y1="981.16" x2="177.9" y2="981.16" stroke="#262626" stroke-width="1.6" />
<line x1="169.9" y1="956.42" x2="177.9" y2="956.42" stroke="#262626" stroke-width="1.6" />
<line x1="169.9" y1="931.68" x2="177.9" y2="931.68" stroke="#262626" stroke-width="1.6" />
<line x1="169.9" y1="906.94" x2="177.9" y2="906.94" stroke="#262626" stroke-width="1.6" />
<text x="10" y="879.5" font-size="58.5" text-anchor="start" fill="#000" >C.</text>
<text x="100" y="1202" font-size="33" text-anchor="middle" letter-spacing="1" fill="#000" transform="rotate(-90 100 1202)" >Precision (%)</text>
<text x="521.5" y="1600" font-size="33" text-anchor="middle" letter-spacing="1" fill="#000" >Recall (%)</text>
<text x="587.3" y="1397.9" font-size="26.5" font-weight="bold" text-anchor="end" letter-spacing="1.3" fill="#000" >AUC</text>
<rect x="195" y="1420.6" width="54.1" height="7.6" fill="#60abd2" stroke="none" stroke-width="1" />
<text x="264" y="1432.4" font-size="22" font-weight="bold" text-anchor="start" letter-spacing="0.8" fill="#000" >HK model 2</text>
<text x="399.2" y="1432.4" font-size="22" text-anchor="start" letter-spacing="0.7" fill="#000" >(Dataset 02)</text>
<text x="534.8" y="1432.4" font-size="22" font-weight="bold" text-anchor="start" letter-spacing="0.7" fill="#000" >0.99</text>
<rect x="195" y="1454.8" width="54.1" height="7.6" fill="#e4e657" stroke="none" stroke-width="1" />
<text x="264" y="1466.1" font-size="22" font-weight="bold" text-anchor="start" letter-spacing="0.8" fill="#000" >HK model 2</text>
<text x="399.2" y="1466.1" font-size="22" text-anchor="start" letter-spacing="0.7" fill="#000" >(Dataset 01)</text>
<text x="534.8" y="1466.1" font-size="22" font-weight="bold" text-anchor="start" letter-spacing="0.7" fill="#000" >0.97</text>
<rect x="195" y="1488.5" width="54.1" height="7.6" fill="#a6a6a6" stroke="none" stroke-width="1" />
<text x="264" y="1499.8" font-size="22" font-weight="bold" text-anchor="start" letter-spacing="0.8" fill="#000" >HK model 1</text>
<text x="399.2" y="1499.8" font-size="22" text-anchor="start" letter-spacing="0.7" fill="#000" >(Dataset 01)</text>
<text x="534.8" y="1499.8" font-size="22" font-weight="bold" text-anchor="start" letter-spacing="0.7" fill="#000" >0.92</text>
<line x1="1226.3" y1="1502.56" x2="1898" y2="1502.56" stroke="#d6d6d6" stroke-width="1.1" stroke-dasharray="3.8,2.4"/>
<line x1="1226.3" y1="1480.32" x2="1898" y2="1480.32" stroke="#d6d6d6" stroke-width="1.1" stroke-dasharray="3.8,2.4"/>
<line x1="1226.3" y1="1458.08" x2="1898" y2="1458.08" stroke="#d6d6d6" stroke-width="1.1" stroke-dasharray="3.8,2.4"/>
<line x1="1226.3" y1="1435.84" x2="1898" y2="1435.84" stroke="#d6d6d6" stroke-width="1.1" stroke-dasharray="3.8,2.4"/>
<line x1="1226.3" y1="1391.36" x2="1898" y2="1391.36" stroke="#d6d6d6" stroke-width="1.1" stroke-dasharray="3.8,2.4"/>
<line x1="1226.3" y1="1369.12" x2="1898" y2="1369.12" stroke="#d6d6d6" stroke-width="1.1" stroke-dasharray="3.8,2.4"/>
<line x1="1226.3" y1="1346.88" x2="1898" y2="1346.88" stroke="#d6d6d6" stroke-width="1.1" stroke-dasharray="3.8,2.4"/>
<line x1="1226.3" y1="1324.64" x2="1898" y2="1324.64" stroke="#d6d6d6" stroke-width="1.1" stroke-dasharray="3.8,2.4"/>
<line x1="1226.3" y1="1280.16" x2="1898" y2="1280.16" stroke="#d6d6d6" stroke-width="1.1" stroke-dasharray="3.8,2.4"/>
<line x1="1226.3" y1="1257.92" x2="1898" y2="1257.92" stroke="#d6d6d6" stroke-width="1.1" stroke-dasharray="3.8,2.4"/>
<line x1="1226.3" y1="1235.68" x2="1898" y2="1235.68" stroke="#d6d6d6" stroke-width="1.1" stroke-dasharray="3.8,2.4"/>
<line x1="1226.3" y1="1213.44" x2="1898" y2="1213.44" stroke="#d6d6d6" stroke-width="1.1" stroke-dasharray="3.8,2.4"/>
<line x1="1226.3" y1="1168.96" x2="1898" y2="1168.96" stroke="#d6d6d6" stroke-width="1.1" stroke-dasharray="3.8,2.4"/>
<line x1="1226.3" y1="1146.72" x2="1898" y2="1146.72" stroke="#d6d6d6" stroke-width="1.1" stroke-dasharray="3.8,2.4"/>
<line x1="1226.3" y1="1124.48" x2="1898" y2="1124.48" stroke="#d6d6d6" stroke-width="1.1" stroke-dasharray="3.8,2.4"/>
<line x1="1226.3" y1="1102.24" x2="1898" y2="1102.24" stroke="#d6d6d6" stroke-width="1.1" stroke-dasharray="3.8,2.4"/>
<line x1="1226.3" y1="1057.76" x2="1898" y2="1057.76" stroke="#d6d6d6" stroke-width="1.1" stroke-dasharray="3.8,2.4"/>
<line x1="1226.3" y1="1035.52" x2="1898" y2="1035.52" stroke="#d6d6d6" stroke-width="1.1" stroke-dasharray="3.8,2.4"/>
<line x1="1226.3" y1="1013.28" x2="1898" y2="1013.28" stroke="#d6d6d6" stroke-width="1.1" stroke-dasharray="3.8,2.4"/>
<line x1="1226.3" y1="991.04" x2="1898" y2="991.04" stroke="#d6d6d6" stroke-width="1.1" stroke-dasharray="3.8,2.4"/>
<line x1="1226.3" y1="946.56" x2="1898" y2="946.56" stroke="#d6d6d6" stroke-width="1.1" stroke-dasharray="3.8,2.4"/>
<line x1="1226.3" y1="924.32" x2="1898" y2="924.32" stroke="#d6d6d6" stroke-width="1.1" stroke-dasharray="3.8,2.4"/>
<line x1="1226.3" y1="902.08" x2="1898" y2="902.08" stroke="#d6d6d6" stroke-width="1.1" stroke-dasharray="3.8,2.4"/>
<line x1="1226.3" y1="879.84" x2="1898" y2="879.84" stroke="#d6d6d6" stroke-width="1.1" stroke-dasharray="3.8,2.4"/>
<line x1="1226.3" y1="1413.6" x2="1898" y2="1413.6" stroke="#c6c6c6" stroke-width="1.8" stroke-dasharray="8.3,3.7"/>
<line x1="1226.3" y1="1302.4" x2="1898" y2="1302.4" stroke="#c6c6c6" stroke-width="1.8" stroke-dasharray="8.3,3.7"/>
<line x1="1226.3" y1="1191.2" x2="1898" y2="1191.2" stroke="#c6c6c6" stroke-width="1.8" stroke-dasharray="8.3,3.7"/>
<line x1="1226.3" y1="1080" x2="1898" y2="1080" stroke="#c6c6c6" stroke-width="1.8" stroke-dasharray="8.3,3.7"/>
<line x1="1226.3" y1="968.8" x2="1898" y2="968.8" stroke="#c6c6c6" stroke-width="1.8" stroke-dasharray="8.3,3.7"/>
<line x1="1256.6" y1="857.6" x2="1256.6" y2="1524.8" stroke="#c6c6c6" stroke-width="1.8" stroke-dasharray="8.3,3.7"/>
<line x1="1358.45" y1="857.6" x2="1358.45" y2="1524.8" stroke="#c6c6c6" stroke-width="1.8" stroke-dasharray="8.3,3.7"/>
<line x1="1460.3" y1="857.6" x2="1460.3" y2="1524.8" stroke="#c6c6c6" stroke-width="1.8" stroke-dasharray="8.3,3.7"/>
<line x1="1562.15" y1="857.6" x2="1562.15" y2="1524.8" stroke="#c6c6c6" stroke-width="1.8" stroke-dasharray="8.3,3.7"/>
<line x1="1664" y1="857.6" x2="1664" y2="1524.8" stroke="#c6c6c6" stroke-width="1.8" stroke-dasharray="8.3,3.7"/>
<line x1="1765.85" y1="857.6" x2="1765.85" y2="1524.8" stroke="#c6c6c6" stroke-width="1.8" stroke-dasharray="8.3,3.7"/>
<line x1="1867.7" y1="857.6" x2="1867.7" y2="1524.8" stroke="#c6c6c6" stroke-width="1.8" stroke-dasharray="8.3,3.7"/>
<path d="M1256.6,1434.73 L1358.45,1279.49 L1460.3,1129.6 L1562.15,1064.21 L1664,1035.3 L1765.85,992.82 L1867.7,988.59" fill="none" stroke="#a6a6a6" stroke-width="2.6" stroke-linejoin="round"/>
<line x1="1256.6" y1="1432.5" x2="1256.6" y2="1436.95" stroke="#a6a6a6" stroke-width="2" />
<line x1="1249.6" y1="1432.5" x2="1263.6" y2="1432.5" stroke="#a6a6a6" stroke-width="2" />
<line x1="1249.6" y1="1436.95" x2="1263.6" y2="1436.95" stroke="#a6a6a6" stroke-width="2" />
<rect x="1251.6" y="1429.73" width="10" height="10" fill="#a6a6a6" stroke="none" stroke-width="1" />
<line x1="1358.45" y1="1277.27" x2="1358.45" y2="1281.72" stroke="#a6a6a6" stroke-width="2" />
<line x1="1351.45" y1="1277.27" x2="1365.45" y2="1277.27" stroke="#a6a6a6" stroke-width="2" />
<line x1="1351.45" y1="1281.72" x2="1365.45" y2="1281.72" stroke="#a6a6a6" stroke-width="2" />
<rect x="1353.45" y="1274.49" width="10" height="10" fill="#a6a6a6" stroke="none" stroke-width="1" />
<line x1="1460.3" y1="1127.37" x2="1460.3" y2="1131.82" stroke="#a6a6a6" stroke-width="2" />
<line x1="1453.3" y1="1127.37" x2="1467.3" y2="1127.37" stroke="#a6a6a6" stroke-width="2" />
<line x1="1453.3" y1="1131.82" x2="1467.3" y2="1131.82" stroke="#a6a6a6" stroke-width="2" />
<rect x="1455.3" y="1124.6" width="10" height="10" fill="#a6a6a6" stroke="none" stroke-width="1" />
<line x1="1562.15" y1="1062.43" x2="1562.15" y2="1065.99" stroke="#a6a6a6" stroke-width="2" />
<line x1="1555.15" y1="1062.43" x2="1569.15" y2="1062.43" stroke="#a6a6a6" stroke-width="2" />
<line x1="1555.15" y1="1065.99" x2="1569.15" y2="1065.99" stroke="#a6a6a6" stroke-width="2" />
<rect x="1557.15" y="1059.21" width="10" height="10" fill="#a6a6a6" stroke="none" stroke-width="1" />
<line x1="1664" y1="1033.52" x2="1664" y2="1037.08" stroke="#a6a6a6" stroke-width="2" />
<line x1="1657" y1="1033.52" x2="1671" y2="1033.52" stroke="#a6a6a6" stroke-width="2" />
<line x1="1657" y1="1037.08" x2="1671" y2="1037.08" stroke="#a6a6a6" stroke-width="2" />
<rect x="1659" y="1030.3" width="10" height="10" fill="#a6a6a6" stroke="none" stroke-width="1" />
<line x1="1765.85" y1="991.04" x2="1765.85" y2="994.6" stroke="#a6a6a6" stroke-width="2" />
<line x1="1758.85" y1="991.04" x2="1772.85" y2="991.04" stroke="#a6a6a6" stroke-width="2" />
<line x1="1758.85" y1="994.6" x2="1772.85" y2="994.6" stroke="#a6a6a6" stroke-width="2" />
<rect x="1760.85" y="987.82" width="10" height="10" fill="#a6a6a6" stroke="none" stroke-width="1" />
<line x1="1867.7" y1="986.81" x2="1867.7" y2="990.37" stroke="#a6a6a6" stroke-width="2" />
<line x1="1860.7" y1="986.81" x2="1874.7" y2="986.81" stroke="#a6a6a6" stroke-width="2" />
<line x1="1860.7" y1="990.37" x2="1874.7" y2="990.37" stroke="#a6a6a6" stroke-width="2" />
<rect x="1862.7" y="983.59" width="10" height="10" fill="#a6a6a6" stroke="none" stroke-width="1" />
<path d="M1256.6,1146.72 L1358.45,1035.3 L1460.3,972.8 L1562.15,943.67 L1664,920.09 L1765.85,906.31 L1867.7,885.84" fill="none" stroke="#e4e657" stroke-width="2.6" stroke-linejoin="round"/>
<line x1="1256.6" y1="1144.5" x2="1256.6" y2="1148.94" stroke="#e4e657" stroke-width="2" />
<line x1="1249.6" y1="1144.5" x2="1263.6" y2="1144.5" stroke="#e4e657" stroke-width="2" />
<line x1="1249.6" y1="1148.94" x2="1263.6" y2="1148.94" stroke="#e4e657" stroke-width="2" />
<rect x="1251.6" y="1141.72" width="10" height="10" fill="#e4e657" stroke="none" stroke-width="1" />
<line x1="1358.45" y1="1033.07" x2="1358.45" y2="1037.52" stroke="#e4e657" stroke-width="2" />
<line x1="1351.45" y1="1033.07" x2="1365.45" y2="1033.07" stroke="#e4e657" stroke-width="2" />
<line x1="1351.45" y1="1037.52" x2="1365.45" y2="1037.52" stroke="#e4e657" stroke-width="2" />
<rect x="1353.45" y="1030.3" width="10" height="10" fill="#e4e657" stroke="none" stroke-width="1" />
<line x1="1460.3" y1="970.58" x2="1460.3" y2="975.03" stroke="#e4e657" stroke-width="2" />
<line x1="1453.3" y1="970.58" x2="1467.3" y2="970.58" stroke="#e4e657" stroke-width="2" />
<line x1="1453.3" y1="975.03" x2="1467.3" y2="975.03" stroke="#e4e657" stroke-width="2" />
<rect x="1455.3" y="967.8" width="10" height="10" fill="#e4e657" stroke="none" stroke-width="1" />
<line x1="1562.15" y1="941.89" x2="1562.15" y2="945.45" stroke="#e4e657" stroke-width="2" />
<line x1="1555.15" y1="941.89" x2="1569.15" y2="941.89" stroke="#e4e657" stroke-width="2" />
<line x1="1555.15" y1="945.45" x2="1569.15" y2="945.45" stroke="#e4e657" stroke-width="2" />
<rect x="1557.15" y="938.67" width="10" height="10" fill="#e4e657" stroke="none" stroke-width="1" />
<line x1="1664" y1="918.32" x2="1664" y2="921.87" stroke="#e4e657" stroke-width="2" />
<line x1="1657" y1="918.32" x2="1671" y2="918.32" stroke="#e4e657" stroke-width="2" />
<line x1="1657" y1="921.87" x2="1671" y2="921.87" stroke="#e4e657" stroke-width="2" />
<rect x="1659" y="915.09" width="10" height="10" fill="#e4e657" stroke="none" stroke-width="1" />
<line x1="1765.85" y1="904.75" x2="1765.85" y2="907.86" stroke="#e4e657" stroke-width="2" />
<line x1="1758.85" y1="904.75" x2="1772.85" y2="904.75" stroke="#e4e657" stroke-width="2" />
<line x1="1758.85" y1="907.86" x2="1772.85" y2="907.86" stroke="#e4e657" stroke-width="2" />
<rect x="1760.85" y="901.31" width="10" height="10" fill="#e4e657" stroke="none" stroke-width="1" />
<line x1="1867.7" y1="883.84" x2="1867.7" y2="887.85" stroke="#e4e657" stroke-width="2" />
<line x1="1860.7" y1="883.84" x2="1874.7" y2="883.84" stroke="#e4e657" stroke-width="2" />
<line x1="1860.7" y1="887.85" x2="1874.7" y2="887.85" stroke="#e4e657" stroke-width="2" />
<rect x="1862.7" y="880.84" width="10" height="10" fill="#e4e657" stroke="none" stroke-width="1" />
<path d="M1256.6,1086 L1358.45,970.8 L1460.3,906.31 L1562.15,882.51 L1664,871.61 L1765.85,867.61 L1867.7,869.61" fill="none" stroke="#60abd2" stroke-width="2.6" stroke-linejoin="round"/>
<line x1="1256.6" y1="1081.11" x2="1256.6" y2="1090.9" stroke="#60abd2" stroke-width="2" />
<line x1="1249.6" y1="1081.11" x2="1263.6" y2="1081.11" stroke="#60abd2" stroke-width="2" />
<line x1="1249.6" y1="1090.9" x2="1263.6" y2="1090.9" stroke="#60abd2" stroke-width="2" />
<rect x="1251.6" y="1081" width="10" height="10" fill="#60abd2" stroke="none" stroke-width="1" />
<line x1="1358.45" y1="968.58" x2="1358.45" y2="973.03" stroke="#60abd2" stroke-width="2" />
<line x1="1351.45" y1="968.58" x2="1365.45" y2="968.58" stroke="#60abd2" stroke-width="2" />
<line x1="1351.45" y1="973.03" x2="1365.45" y2="973.03" stroke="#60abd2" stroke-width="2" />
<rect x="1353.45" y="965.8" width="10" height="10" fill="#60abd2" stroke="none" stroke-width="1" />
<line x1="1460.3" y1="904.08" x2="1460.3" y2="908.53" stroke="#60abd2" stroke-width="2" />
<line x1="1453.3" y1="904.08" x2="1467.3" y2="904.08" stroke="#60abd2" stroke-width="2" />
<line x1="1453.3" y1="908.53" x2="1467.3" y2="908.53" stroke="#60abd2" stroke-width="2" />
<rect x="1455.3" y="901.31" width="10" height="10" fill="#60abd2" stroke="none" stroke-width="1" />
<line x1="1562.15" y1="880.73" x2="1562.15" y2="884.29" stroke="#60abd2" stroke-width="2" />
<line x1="1555.15" y1="880.73" x2="1569.15" y2="880.73" stroke="#60abd2" stroke-width="2" />
<line x1="1555.15" y1="884.29" x2="1569.15" y2="884.29" stroke="#60abd2" stroke-width="2" />
<rect x="1557.15" y="877.51" width="10" height="10" fill="#60abd2" stroke="none" stroke-width="1" />
<line x1="1664" y1="869.83" x2="1664" y2="873.39" stroke="#60abd2" stroke-width="2" />
<line x1="1657" y1="869.83" x2="1671" y2="869.83" stroke="#60abd2" stroke-width="2" />
<line x1="1657" y1="873.39" x2="1671" y2="873.39" stroke="#60abd2" stroke-width="2" />
<rect x="1659" y="866.61" width="10" height="10" fill="#60abd2" stroke="none" stroke-width="1" />
<line x1="1765.85" y1="866.05" x2="1765.85" y2="869.16" stroke="#60abd2" stroke-width="2" />
<line x1="1758.85" y1="866.05" x2="1772.85" y2="866.05" stroke="#60abd2" stroke-width="2" />
<line x1="1758.85" y1="869.16" x2="1772.85" y2="869.16" stroke="#60abd2" stroke-width="2" />
<rect x="1760.85" y="862.61" width="10" height="10" fill="#60abd2" stroke="none" stroke-width="1" />
<line x1="1867.7" y1="868.05" x2="1867.7" y2="871.17" stroke="#60abd2" stroke-width="2" />
<line x1="1860.7" y1="868.05" x2="1874.7" y2="868.05" stroke="#60abd2" stroke-width="2" />
<line x1="1860.7" y1="871.17" x2="1874.7" y2="871.17" stroke="#60abd2" stroke-width="2" />
<rect x="1862.7" y="864.61" width="10" height="10" fill="#60abd2" stroke="none" stroke-width="1" />
<rect x="1226.3" y="857.6" width="671.7" height="667.2" fill="none" stroke="#262626" stroke-width="1.7" />
<line x1="1256.6" y1="1524.8" x2="1256.6" y2="1539.8" stroke="#262626" stroke-width="1.7" />
<text x="1257.35" y="1562.8" font-size="23" text-anchor="middle" letter-spacing="1.5" fill="#000" >1-5</text>
<line x1="1358.45" y1="1524.8" x2="1358.45" y2="1539.8" stroke="#262626" stroke-width="1.7" />
<text x="1359.2" y="1562.8" font-size="23" text-anchor="middle" letter-spacing="1.5" fill="#000" >6-10</text>
<line x1="1460.3" y1="1524.8" x2="1460.3" y2="1539.8" stroke="#262626" stroke-width="1.7" />
<text x="1461.05" y="1562.8" font-size="23" text-anchor="middle" letter-spacing="1.5" fill="#000" >11-20</text>
<line x1="1562.15" y1="1524.8" x2="1562.15" y2="1539.8" stroke="#262626" stroke-width="1.7" />
<text x="1562.9" y="1562.8" font-size="23" text-anchor="middle" letter-spacing="1.5" fill="#000" >21-30</text>
<line x1="1664" y1="1524.8" x2="1664" y2="1539.8" stroke="#262626" stroke-width="1.7" />
<text x="1664.75" y="1562.8" font-size="23" text-anchor="middle" letter-spacing="1.5" fill="#000" >31-60</text>
<line x1="1765.85" y1="1524.8" x2="1765.85" y2="1539.8" stroke="#262626" stroke-width="1.7" />
<text x="1781.6" y="1562.8" font-size="23" text-anchor="middle" letter-spacing="1.5" fill="#000" >61-120</text>
<line x1="1867.7" y1="1524.8" x2="1867.7" y2="1539.8" stroke="#262626" stroke-width="1.7" />
<text x="1871.45" y="1562.8" font-size="23" text-anchor="middle" letter-spacing="1.5" fill="#000" >&gt;120</text>
<line x1="1211.3" y1="1524.8" x2="1226.3" y2="1524.8" stroke="#262626" stroke-width="1.7" />
<text x="1205.3" y="1533.8" font-size="23" text-anchor="end" letter-spacing="1.5" fill="#000" >0.70</text>
<line x1="1211.3" y1="1413.6" x2="1226.3" y2="1413.6" stroke="#262626" stroke-width="1.7" />
<text x="1205.3" y="1422.6" font-size="23" text-anchor="end" letter-spacing="1.5" fill="#000" >0.75</text>
<line x1="1211.3" y1="1302.4" x2="1226.3" y2="1302.4" stroke="#262626" stroke-width="1.7" />
<text x="1205.3" y="1311.4" font-size="23" text-anchor="end" letter-spacing="1.5" fill="#000" >0.80</text>
<line x1="1211.3" y1="1191.2" x2="1226.3" y2="1191.2" stroke="#262626" stroke-width="1.7" />
<text x="1205.3" y="1200.2" font-size="23" text-anchor="end" letter-spacing="1.5" fill="#000" >0.85</text>
<line x1="1211.3" y1="1080" x2="1226.3" y2="1080" stroke="#262626" stroke-width="1.7" />
<text x="1205.3" y="1089" font-size="23" text-anchor="end" letter-spacing="1.5" fill="#000" >0.90</text>
<line x1="1211.3" y1="968.8" x2="1226.3" y2="968.8" stroke="#262626" stroke-width="1.7" />
<text x="1205.3" y="977.8" font-size="23" text-anchor="end" letter-spacing="1.5" fill="#000" >0.95</text>
<line x1="1211.3" y1="857.6" x2="1226.3" y2="857.6" stroke="#262626" stroke-width="1.7" />
<text x="1205.3" y="866.6" font-size="23" text-anchor="end" letter-spacing="1.5" fill="#000" >1.00</text>
<line x1="1218.3" y1="1502.56" x2="1226.3" y2="1502.56" stroke="#262626" stroke-width="1.6" />
<line x1="1218.3" y1="1480.32" x2="1226.3" y2="1480.32" stroke="#262626" stroke-width="1.6" />
<line x1="1218.3" y1="1458.08" x2="1226.3" y2="1458.08" stroke="#262626" stroke-width="1.6" />
<line x1="1218.3" y1="1435.84" x2="1226.3" y2="1435.84" stroke="#262626" stroke-width="1.6" />
<line x1="1218.3" y1="1391.36" x2="1226.3" y2="1391.36" stroke="#262626" stroke-width="1.6" />
<line x1="1218.3" y1="1369.12" x2="1226.3" y2="1369.12" stroke="#262626" stroke-width="1.6" />
<line x1="1218.3" y1="1346.88" x2="1226.3" y2="1346.88" stroke="#262626" stroke-width="1.6" />
<line x1="1218.3" y1="1324.64" x2="1226.3" y2="1324.64" stroke="#262626" stroke-width="1.6" />
<line x1="1218.3" y1="1280.16" x2="1226.3" y2="1280.16" stroke="#262626" stroke-width="1.6" />
<line x1="1218.3" y1="1257.92" x2="1226.3" y2="1257.92" stroke="#262626" stroke-width="1.6" />
<line x1="1218.3" y1="1235.68" x2="1226.3" y2="1235.68" stroke="#262626" stroke-width="1.6" />
<line x1="1218.3" y1="1213.44" x2="1226.3" y2="1213.44" stroke="#262626" stroke-width="1.6" />
<line x1="1218.3" y1="1168.96" x2="1226.3" y2="1168.96" stroke="#262626" stroke-width="1.6" />
<line x1="1218.3" y1="1146.72" x2="1226.3" y2="1146.72" stroke="#262626" stroke-width="1.6" />
<line x1="1218.3" y1="1124.48" x2="1226.3" y2="1124.48" stroke="#262626" stroke-width="1.6" />
<line x1="1218.3" y1="1102.24" x2="1226.3" y2="1102.24" stroke="#262626" stroke-width="1.6" />
<line x1="1218.3" y1="1057.76" x2="1226.3" y2="1057.76" stroke="#262626" stroke-width="1.6" />
<line x1="1218.3" y1="1035.52" x2="1226.3" y2="1035.52" stroke="#262626" stroke-width="1.6" />
<line x1="1218.3" y1="1013.28" x2="1226.3" y2="1013.28" stroke="#262626" stroke-width="1.6" />
<line x1="1218.3" y1="991.04" x2="1226.3" y2="991.04" stroke="#262626" stroke-width="1.6" />
<line x1="1218.3" y1="946.56" x2="1226.3" y2="946.56" stroke="#262626" stroke-width="1.6" />
<line x1="1218.3" y1="924.32" x2="1226.3" y2="924.32" stroke="#262626" stroke-width="1.6" />
<line x1="1218.3" y1="902.08" x2="1226.3" y2="902.08" stroke="#262626" stroke-width="1.6" />
<line x1="1218.3" y1="879.84" x2="1226.3" y2="879.84" stroke="#262626" stroke-width="1.6" />
<text x="1043.6" y="876.7" font-size="58.5" text-anchor="start" fill="#000" >D.</text>
<text x="1143.5" y="1191.2" font-size="33" text-anchor="middle" letter-spacing="1" fill="#000" transform="rotate(-90 1143.5 1191.2)" >AUC-PR</text>
<text x="1562.65" y="1598.5" font-size="32.5" text-anchor="middle" letter-spacing="0.9" fill="#000" >Subread depth (x)</text>
<rect x="1525.6" y="1407.5" width="361.2" height="106.3" fill="#ffffff" stroke="#d9d9d9" stroke-width="1.4" rx="4" fill-opacity="0.85"/>
<line x1="1533.6" y1="1425.8" x2="1580.9" y2="1425.8" stroke="#60abd2" stroke-width="2.6" />
<line x1="1557.25" y1="1414.3" x2="1557.25" y2="1437.3" stroke="#60abd2" stroke-width="2" />
<line x1="1550.25" y1="1414.3" x2="1564.25" y2="1414.3" stroke="#60abd2" stroke-width="2" />
<line x1="1550.25" y1="1437.3" x2="1564.25" y2="1437.3" stroke="#60abd2" stroke-width="2" />
<rect x="1552.45" y="1421" width="9.6" height="9.6" fill="#60abd2" stroke="none" stroke-width="1" />
<text x="1598" y="1433.8" font-size="21.6" text-anchor="start" letter-spacing="0.75" fill="#000" ><tspan font-weight="bold">HK model 2</tspan> (Dataset 02)</text>
<line x1="1533.6" y1="1458.9" x2="1580.9" y2="1458.9" stroke="#e4e657" stroke-width="2.6" />
<line x1="1557.25" y1="1447.4" x2="1557.25" y2="1470.4" stroke="#e4e657" stroke-width="2" />
<line x1="1550.25" y1="1447.4" x2="1564.25" y2="1447.4" stroke="#e4e657" stroke-width="2" />
<line x1="1550.25" y1="1470.4" x2="1564.25" y2="1470.4" stroke="#e4e657" stroke-width="2" />
<rect x="1552.45" y="1454.1" width="9.6" height="9.6" fill="#e4e657" stroke="none" stroke-width="1" />
<text x="1598" y="1466.9" font-size="21.6" text-anchor="start" letter-spacing="0.75" fill="#000" ><tspan font-weight="bold">HK model 2</tspan> (Dataset 01)</text>
<line x1="1533.6" y1="1491.8" x2="1580.9" y2="1491.8" stroke="#a6a6a6" stroke-width="2.6" />
<line x1="1557.25" y1="1480.3" x2="1557.25" y2="1503.3" stroke="#a6a6a6" stroke-width="2" />
<line x1="1550.25" y1="1480.3" x2="1564.25" y2="1480.3" stroke="#a6a6a6" stroke-width="2" />
<line x1="1550.25" y1="1503.3" x2="1564.25" y2="1503.3" stroke="#a6a6a6" stroke-width="2" />
<rect x="1552.45" y="1487" width="9.6" height="9.6" fill="#a6a6a6" stroke="none" stroke-width="1" />
<text x="1598" y="1499.8" font-size="21.6" text-anchor="start" letter-spacing="0.75" fill="#000" ><tspan font-weight="bold">HK model 1</tspan> (Dataset 01)</text>
<rect x="182.6" y="1712.9" width="188.3" height="666.5" fill="#e6e6e6" stroke="none" stroke-width="1" />
<line x1="215.92" y1="1710.4" x2="215.92" y2="2381" stroke="#dcdcdc" stroke-width="1.0" stroke-dasharray="3.2,2.4"/>
<line x1="233.14" y1="1710.4" x2="233.14" y2="2381" stroke="#dcdcdc" stroke-width="1.0" stroke-dasharray="3.2,2.4"/>
<line x1="250.36" y1="1710.4" x2="250.36" y2="2381" stroke="#dcdcdc" stroke-width="1.0" stroke-dasharray="3.2,2.4"/>
<line x1="267.58" y1="1710.4" x2="267.58" y2="2381" stroke="#dcdcdc" stroke-width="1.0" stroke-dasharray="3.2,2.4"/>
<line x1="302.02" y1="1710.4" x2="302.02" y2="2381" stroke="#dcdcdc" stroke-width="1.0" stroke-dasharray="3.2,2.4"/>
<line x1="319.24" y1="1710.4" x2="319.24" y2="2381" stroke="#dcdcdc" stroke-width="1.0" stroke-dasharray="3.2,2.4"/>
<line x1="336.46" y1="1710.4" x2="336.46" y2="2381" stroke="#dcdcdc" stroke-width="1.0" stroke-dasharray="3.2,2.4"/>
<line x1="353.68" y1="1710.4" x2="353.68" y2="2381" stroke="#dcdcdc" stroke-width="1.0" stroke-dasharray="3.2,2.4"/>
<line x1="388.12" y1="1710.4" x2="388.12" y2="2381" stroke="#dcdcdc" stroke-width="1.0" stroke-dasharray="3.2,2.4"/>
<line x1="405.34" y1="1710.4" x2="405.34" y2="2381" stroke="#dcdcdc" stroke-width="1.0" stroke-dasharray="3.2,2.4"/>
<line x1="422.56" y1="1710.4" x2="422.56" y2="2381" stroke="#dcdcdc" stroke-width="1.0" stroke-dasharray="3.2,2.4"/>
<line x1="439.78" y1="1710.4" x2="439.78" y2="2381" stroke="#dcdcdc" stroke-width="1.0" stroke-dasharray="3.2,2.4"/>
<line x1="474.22" y1="1710.4" x2="474.22" y2="2381" stroke="#dcdcdc" stroke-width="1.0" stroke-dasharray="3.2,2.4"/>
<line x1="491.44" y1="1710.4" x2="491.44" y2="2381" stroke="#dcdcdc" stroke-width="1.0" stroke-dasharray="3.2,2.4"/>
<line x1="508.66" y1="1710.4" x2="508.66" y2="2381" stroke="#dcdcdc" stroke-width="1.0" stroke-dasharray="3.2,2.4"/>
<line x1="525.88" y1="1710.4" x2="525.88" y2="2381" stroke="#dcdcdc" stroke-width="1.0" stroke-dasharray="3.2,2.4"/>
<line x1="560.32" y1="1710.4" x2="560.32" y2="2381" stroke="#dcdcdc" stroke-width="1.0" stroke-dasharray="3.2,2.4"/>
<line x1="577.54" y1="1710.4" x2="577.54" y2="2381" stroke="#dcdcdc" stroke-width="1.0" stroke-dasharray="3.2,2.4"/>
<line x1="594.76" y1="1710.4" x2="594.76" y2="2381" stroke="#dcdcdc" stroke-width="1.0" stroke-dasharray="3.2,2.4"/>
<line x1="611.98" y1="1710.4" x2="611.98" y2="2381" stroke="#dcdcdc" stroke-width="1.0" stroke-dasharray="3.2,2.4"/>
<line x1="646.42" y1="1710.4" x2="646.42" y2="2381" stroke="#dcdcdc" stroke-width="1.0" stroke-dasharray="3.2,2.4"/>
<line x1="663.64" y1="1710.4" x2="663.64" y2="2381" stroke="#dcdcdc" stroke-width="1.0" stroke-dasharray="3.2,2.4"/>
<line x1="680.86" y1="1710.4" x2="680.86" y2="2381" stroke="#dcdcdc" stroke-width="1.0" stroke-dasharray="3.2,2.4"/>
<line x1="698.08" y1="1710.4" x2="698.08" y2="2381" stroke="#dcdcdc" stroke-width="1.0" stroke-dasharray="3.2,2.4"/>
<line x1="732.52" y1="1710.4" x2="732.52" y2="2381" stroke="#dcdcdc" stroke-width="1.0" stroke-dasharray="3.2,2.4"/>
<line x1="749.74" y1="1710.4" x2="749.74" y2="2381" stroke="#dcdcdc" stroke-width="1.0" stroke-dasharray="3.2,2.4"/>
<line x1="766.96" y1="1710.4" x2="766.96" y2="2381" stroke="#dcdcdc" stroke-width="1.0" stroke-dasharray="3.2,2.4"/>
<line x1="784.18" y1="1710.4" x2="784.18" y2="2381" stroke="#dcdcdc" stroke-width="1.0" stroke-dasharray="3.2,2.4"/>
<line x1="818.62" y1="1710.4" x2="818.62" y2="2381" stroke="#dcdcdc" stroke-width="1.0" stroke-dasharray="3.2,2.4"/>
<line x1="835.84" y1="1710.4" x2="835.84" y2="2381" stroke="#dcdcdc" stroke-width="1.0" stroke-dasharray="3.2,2.4"/>
<line x1="853.06" y1="1710.4" x2="853.06" y2="2381" stroke="#dcdcdc" stroke-width="1.0" stroke-dasharray="3.2,2.4"/>
<line x1="181.3" y1="2347.7" x2="870.6" y2="2347.7" stroke="#dcdcdc" stroke-width="1.0" stroke-dasharray="3.6,2.2"/>
<line x1="181.3" y1="2314.49" x2="870.6" y2="2314.49" stroke="#dcdcdc" stroke-width="1.0" stroke-dasharray="3.6,2.2"/>
<line x1="181.3" y1="2281.29" x2="870.6" y2="2281.29" stroke="#dcdcdc" stroke-width="1.0" stroke-dasharray="3.6,2.2"/>
<line x1="181.3" y1="2214.88" x2="870.6" y2="2214.88" stroke="#dcdcdc" stroke-width="1.0" stroke-dasharray="3.6,2.2"/>
<line x1="181.3" y1="2181.67" x2="870.6" y2="2181.67" stroke="#dcdcdc" stroke-width="1.0" stroke-dasharray="3.6,2.2"/>
<line x1="181.3" y1="2148.47" x2="870.6" y2="2148.47" stroke="#dcdcdc" stroke-width="1.0" stroke-dasharray="3.6,2.2"/>
<line x1="181.3" y1="2082.06" x2="870.6" y2="2082.06" stroke="#dcdcdc" stroke-width="1.0" stroke-dasharray="3.6,2.2"/>
<line x1="181.3" y1="2048.85" x2="870.6" y2="2048.85" stroke="#dcdcdc" stroke-width="1.0" stroke-dasharray="3.6,2.2"/>
<line x1="181.3" y1="2015.64" x2="870.6" y2="2015.64" stroke="#dcdcdc" stroke-width="1.0" stroke-dasharray="3.6,2.2"/>
<line x1="181.3" y1="1949.24" x2="870.6" y2="1949.24" stroke="#dcdcdc" stroke-width="1.0" stroke-dasharray="3.6,2.2"/>
<line x1="181.3" y1="1916.03" x2="870.6" y2="1916.03" stroke="#dcdcdc" stroke-width="1.0" stroke-dasharray="3.6,2.2"/>
<line x1="181.3" y1="1882.83" x2="870.6" y2="1882.83" stroke="#dcdcdc" stroke-width="1.0" stroke-dasharray="3.6,2.2"/>
<line x1="181.3" y1="1816.41" x2="870.6" y2="1816.41" stroke="#dcdcdc" stroke-width="1.0" stroke-dasharray="3.6,2.2"/>
<line x1="181.3" y1="1783.21" x2="870.6" y2="1783.21" stroke="#dcdcdc" stroke-width="1.0" stroke-dasharray="3.6,2.2"/>
<line x1="181.3" y1="1750.01" x2="870.6" y2="1750.01" stroke="#dcdcdc" stroke-width="1.0" stroke-dasharray="3.6,2.2"/>
<line x1="198.7" y1="1710.4" x2="198.7" y2="2381" stroke="#d0d0d0" stroke-width="1.5" stroke-dasharray="6.5,3.2"/>
<line x1="284.8" y1="1710.4" x2="284.8" y2="2381" stroke="#d0d0d0" stroke-width="1.5" stroke-dasharray="6.5,3.2"/>
<line x1="370.9" y1="1710.4" x2="370.9" y2="2381" stroke="#d0d0d0" stroke-width="1.5" stroke-dasharray="6.5,3.2"/>
<line x1="457" y1="1710.4" x2="457" y2="2381" stroke="#d0d0d0" stroke-width="1.5" stroke-dasharray="6.5,3.2"/>
<line x1="543.1" y1="1710.4" x2="543.1" y2="2381" stroke="#d0d0d0" stroke-width="1.5" stroke-dasharray="6.5,3.2"/>
<line x1="629.2" y1="1710.4" x2="629.2" y2="2381" stroke="#d0d0d0" stroke-width="1.5" stroke-dasharray="6.5,3.2"/>
<line x1="715.3" y1="1710.4" x2="715.3" y2="2381" stroke="#d0d0d0" stroke-width="1.5" stroke-dasharray="6.5,3.2"/>
<line x1="801.4" y1="1710.4" x2="801.4" y2="2381" stroke="#d0d0d0" stroke-width="1.5" stroke-dasharray="6.5,3.2"/>
<line x1="181.3" y1="2248.08" x2="870.6" y2="2248.08" stroke="#d0d0d0" stroke-width="1.5" stroke-dasharray="7,3"/>
<line x1="181.3" y1="2115.26" x2="870.6" y2="2115.26" stroke="#d0d0d0" stroke-width="1.5" stroke-dasharray="7,3"/>
<line x1="181.3" y1="1982.44" x2="870.6" y2="1982.44" stroke="#d0d0d0" stroke-width="1.5" stroke-dasharray="7,3"/>
<line x1="181.3" y1="1849.62" x2="870.6" y2="1849.62" stroke="#d0d0d0" stroke-width="1.5" stroke-dasharray="7,3"/>
<line x1="181.3" y1="1716.8" x2="870.6" y2="1716.8" stroke="#d0d0d0" stroke-width="1.5" stroke-dasharray="7,3"/>
<clipPath id="clipE"><rect x="181.3" y="1709.9" width="689.3" height="671.5999999999999"/></clipPath>
<g clip-path="url(#clipE)">
<path d="M198.7,1722.11 L215.92,1722.11 L233.14,1722.11 L250.36,1722.11 L267.58,1722.11 L284.8,1721.78 L302.02,1722.44 L319.24,1722.11 L336.46,1724.11 L353.68,1722.11 L370.9,1722.44 L388.12,1722.11 L405.34,1723.77 L422.56,1722.11 L439.78,1722.11 L457,1722.11 L474.22,1722.11 L491.44,1722.11 L508.66,1722.78 L525.88,1722.11 L543.1,1722.44 L560.32,1723.44 L577.54,1722.44 L594.76,1722.11 L611.98,1722.11 L629.2,1722.11 L646.42,1724.11 L663.64,1722.11 L680.86,1722.11 L698.08,1722.11 L715.3,1722.11 L732.52,1722.44 L749.74,1723.44 L766.96,1722.44 L784.18,1722.11 L801.4,1722.11 L818.62,1722.11 L835.84,1722.44 L853.06,1722.44 L870.28,1722.11" fill="none" stroke="#e4e657" stroke-width="3.2" stroke-linejoin="round"/>
<rect x="193.5" y="1716.91" width="10.4" height="10.4" fill="#e4e657" stroke="none" stroke-width="1" />
<rect x="210.72" y="1716.91" width="10.4" height="10.4" fill="#e4e657" stroke="none" stroke-width="1" />
<rect x="227.94" y="1716.91" width="10.4" height="10.4" fill="#e4e657" stroke="none" stroke-width="1" />
<rect x="245.16" y="1716.91" width="10.4" height="10.4" fill="#e4e657" stroke="none" stroke-width="1" />
<rect x="262.38" y="1716.91" width="10.4" height="10.4" fill="#e4e657" stroke="none" stroke-width="1" />
<rect x="279.6" y="1716.58" width="10.4" height="10.4" fill="#e4e657" stroke="none" stroke-width="1" />
<rect x="296.82" y="1717.24" width="10.4" height="10.4" fill="#e4e657" stroke="none" stroke-width="1" />
<rect x="314.04" y="1716.91" width="10.4" height="10.4" fill="#e4e657" stroke="none" stroke-width="1" />
<rect x="331.26" y="1718.91" width="10.4" height="10.4" fill="#e4e657" stroke="none" stroke-width="1" />
<rect x="348.48" y="1716.91" width="10.4" height="10.4" fill="#e4e657" stroke="none" stroke-width="1" />
<rect x="365.7" y="1717.24" width="10.4" height="10.4" fill="#e4e657" stroke="none" stroke-width="1" />
<rect x="382.92" y="1716.91" width="10.4" height="10.4" fill="#e4e657" stroke="none" stroke-width="1" />
<rect x="400.14" y="1718.57" width="10.4" height="10.4" fill="#e4e657" stroke="none" stroke-width="1" />
<rect x="417.36" y="1716.91" width="10.4" height="10.4" fill="#e4e657" stroke="none" stroke-width="1" />
<rect x="434.58" y="1716.91" width="10.4" height="10.4" fill="#e4e657" stroke="none" stroke-width="1" />
<rect x="451.8" y="1716.91" width="10.4" height="10.4" fill="#e4e657" stroke="none" stroke-width="1" />
<rect x="469.02" y="1716.91" width="10.4" height="10.4" fill="#e4e657" stroke="none" stroke-width="1" />
<rect x="486.24" y="1716.91" width="10.4" height="10.4" fill="#e4e657" stroke="none" stroke-width="1" />
<rect x="503.46" y="1717.58" width="10.4" height="10.4" fill="#e4e657" stroke="none" stroke-width="1" />
<rect x="520.68" y="1716.91" width="10.4" height="10.4" fill="#e4e657" stroke="none" stroke-width="1" />
<rect x="537.9" y="1717.24" width="10.4" height="10.4" fill="#e4e657" stroke="none" stroke-width="1" />
<rect x="555.12" y="1718.24" width="10.4" height="10.4" fill="#e4e657" stroke="none" stroke-width="1" />
<rect x="572.34" y="1717.24" width="10.4" height="10.4" fill="#e4e657" stroke="none" stroke-width="1" />
<rect x="589.56" y="1716.91" width="10.4" height="10.4" fill="#e4e657" stroke="none" stroke-width="1" />
<rect x="606.78" y="1716.91" width="10.4" height="10.4" fill="#e4e657" stroke="none" stroke-width="1" />
<rect x="624" y="1716.91" width="10.4" height="10.4" fill="#e4e657" stroke="none" stroke-width="1" />
<rect x="641.22" y="1718.91" width="10.4" height="10.4" fill="#e4e657" stroke="none" stroke-width="1" />
<rect x="658.44" y="1716.91" width="10.4" height="10.4" fill="#e4e657" stroke="none" stroke-width="1" />
<rect x="675.66" y="1716.91" width="10.4" height="10.4" fill="#e4e657" stroke="none" stroke-width="1" />
<rect x="692.88" y="1716.91" width="10.4" height="10.4" fill="#e4e657" stroke="none" stroke-width="1" />
<rect x="710.1" y="1716.91" width="10.4" height="10.4" fill="#e4e657" stroke="none" stroke-width="1" />
<rect x="727.32" y="1717.24" width="10.4" height="10.4" fill="#e4e657" stroke="none" stroke-width="1" />
<rect x="744.54" y="1718.24" width="10.4" height="10.4" fill="#e4e657" stroke="none" stroke-width="1" />
<rect x="761.76" y="1717.24" width="10.4" height="10.4" fill="#e4e657" stroke="none" stroke-width="1" />
<rect x="778.98" y="1716.91" width="10.4" height="10.4" fill="#e4e657" stroke="none" stroke-width="1" />
<rect x="796.2" y="1716.91" width="10.4" height="10.4" fill="#e4e657" stroke="none" stroke-width="1" />
<rect x="813.42" y="1716.91" width="10.4" height="10.4" fill="#e4e657" stroke="none" stroke-width="1" />
<rect x="830.64" y="1717.24" width="10.4" height="10.4" fill="#e4e657" stroke="none" stroke-width="1" />
<rect x="847.86" y="1717.24" width="10.4" height="10.4" fill="#e4e657" stroke="none" stroke-width="1" />
<rect x="865.08" y="1716.91" width="10.4" height="10.4" fill="#e4e657" stroke="none" stroke-width="1" />
<path d="M198.7,2376.25 L215.92,2366.29 L233.14,2376.92 L250.36,2372.6 L267.58,2371.93 L284.8,2356.99 L302.02,2358.98 L319.24,2345.04 L336.46,2327.11 L353.68,2281.29 L370.9,2094.01 L388.12,1749.34 L405.34,1736.99 L422.56,1717.46 L439.78,1781.55 L457,1717.13 L474.22,1744.69 L491.44,1736.39 L508.66,1729.68 L525.88,1717.13 L543.1,1733.4 L560.32,1757.31 L577.54,1761.96 L594.76,1717.13 L611.98,1745.36 L629.2,1717.13 L646.42,1793.17 L663.64,1717.13 L680.86,1717.13 L698.08,1717.13 L715.3,1746.68 L732.52,1749.34 L749.74,1760.63 L766.96,1736.39 L784.18,1784.54 L801.4,1717.13 L818.62,1717.13 L835.84,1737.39 L853.06,1760.63 L870.28,1733.4" fill="none" stroke="#62bd5d" stroke-width="2.3" stroke-linejoin="round"/>
<rect x="193.5" y="2371.05" width="10.4" height="10.4" fill="#62bd5d" stroke="none" stroke-width="1" />
<rect x="210.72" y="2361.09" width="10.4" height="10.4" fill="#62bd5d" stroke="none" stroke-width="1" />
<rect x="227.94" y="2371.72" width="10.4" height="10.4" fill="#62bd5d" stroke="none" stroke-width="1" />
<rect x="245.16" y="2367.4" width="10.4" height="10.4" fill="#62bd5d" stroke="none" stroke-width="1" />
<rect x="262.38" y="2366.73" width="10.4" height="10.4" fill="#62bd5d" stroke="none" stroke-width="1" />
<rect x="279.6" y="2351.79" width="10.4" height="10.4" fill="#62bd5d" stroke="none" stroke-width="1" />
<rect x="296.82" y="2353.78" width="10.4" height="10.4" fill="#62bd5d" stroke="none" stroke-width="1" />
<rect x="314.04" y="2339.84" width="10.4" height="10.4" fill="#62bd5d" stroke="none" stroke-width="1" />
<rect x="331.26" y="2321.91" width="10.4" height="10.4" fill="#62bd5d" stroke="none" stroke-width="1" />
<rect x="348.48" y="2276.09" width="10.4" height="10.4" fill="#62bd5d" stroke="none" stroke-width="1" />
<rect x="365.7" y="2088.81" width="10.4" height="10.4" fill="#62bd5d" stroke="none" stroke-width="1" />
<rect x="382.92" y="1744.14" width="10.4" height="10.4" fill="#62bd5d" stroke="none" stroke-width="1" />
<rect x="400.14" y="1731.79" width="10.4" height="10.4" fill="#62bd5d" stroke="none" stroke-width="1" />
<rect x="417.36" y="1712.26" width="10.4" height="10.4" fill="#62bd5d" stroke="none" stroke-width="1" />
<rect x="434.58" y="1776.35" width="10.4" height="10.4" fill="#62bd5d" stroke="none" stroke-width="1" />
<rect x="451.8" y="1711.93" width="10.4" height="10.4" fill="#62bd5d" stroke="none" stroke-width="1" />
<rect x="469.02" y="1739.49" width="10.4" height="10.4" fill="#62bd5d" stroke="none" stroke-width="1" />
<rect x="486.24" y="1731.19" width="10.4" height="10.4" fill="#62bd5d" stroke="none" stroke-width="1" />
<rect x="503.46" y="1724.48" width="10.4" height="10.4" fill="#62bd5d" stroke="none" stroke-width="1" />
<rect x="520.68" y="1711.93" width="10.4" height="10.4" fill="#62bd5d" stroke="none" stroke-width="1" />
<rect x="537.9" y="1728.2" width="10.4" height="10.4" fill="#62bd5d" stroke="none" stroke-width="1" />
<rect x="555.12" y="1752.11" width="10.4" height="10.4" fill="#62bd5d" stroke="none" stroke-width="1" />
<rect x="572.34" y="1756.76" width="10.4" height="10.4" fill="#62bd5d" stroke="none" stroke-width="1" />
<rect x="589.56" y="1711.93" width="10.4" height="10.4" fill="#62bd5d" stroke="none" stroke-width="1" />
<rect x="606.78" y="1740.16" width="10.4" height="10.4" fill="#62bd5d" stroke="none" stroke-width="1" />
<rect x="624" y="1711.93" width="10.4" height="10.4" fill="#62bd5d" stroke="none" stroke-width="1" />
<rect x="641.22" y="1787.97" width="10.4" height="10.4" fill="#62bd5d" stroke="none" stroke-width="1" />
<rect x="658.44" y="1711.93" width="10.4" height="10.4" fill="#62bd5d" stroke="none" stroke-width="1" />
<rect x="675.66" y="1711.93" width="10.4" height="10.4" fill="#62bd5d" stroke="none" stroke-width="1" />
<rect x="692.88" y="1711.93" width="10.4" height="10.4" fill="#62bd5d" stroke="none" stroke-width="1" />
<rect x="710.1" y="1741.48" width="10.4" height="10.4" fill="#62bd5d" stroke="none" stroke-width="1" />
<rect x="727.32" y="1744.14" width="10.4" height="10.4" fill="#62bd5d" stroke="none" stroke-width="1" />
<rect x="744.54" y="1755.43" width="10.4" height="10.4" fill="#62bd5d" stroke="none" stroke-width="1" />
<rect x="761.76" y="1731.19" width="10.4" height="10.4" fill="#62bd5d" stroke="none" stroke-width="1" />
<rect x="778.98" y="1779.34" width="10.4" height="10.4" fill="#62bd5d" stroke="none" stroke-width="1" />
<rect x="796.2" y="1711.93" width="10.4" height="10.4" fill="#62bd5d" stroke="none" stroke-width="1" />
<rect x="813.42" y="1711.93" width="10.4" height="10.4" fill="#62bd5d" stroke="none" stroke-width="1" />
<rect x="830.64" y="1732.19" width="10.4" height="10.4" fill="#62bd5d" stroke="none" stroke-width="1" />
<rect x="847.86" y="1755.43" width="10.4" height="10.4" fill="#62bd5d" stroke="none" stroke-width="1" />
<rect x="865.08" y="1728.2" width="10.4" height="10.4" fill="#62bd5d" stroke="none" stroke-width="1" />
</g>
<rect x="181.3" y="1710.4" width="689.3" height="670.6" fill="none" stroke="#262626" stroke-width="1.7" />
<line x1="198.7" y1="2381" x2="198.7" y2="2396" stroke="#262626" stroke-width="1.7" />
<text x="197.9" y="2416.3" font-size="17" text-anchor="middle" letter-spacing="0.8" fill="#000" stroke="#000" stroke-width="0.35">1</text>
<line x1="284.8" y1="2381" x2="284.8" y2="2396" stroke="#262626" stroke-width="1.7" />
<text x="284" y="2416.3" font-size="17" text-anchor="middle" letter-spacing="0.8" fill="#000" stroke="#000" stroke-width="0.35">6</text>
<line x1="370.9" y1="2381" x2="370.9" y2="2396" stroke="#262626" stroke-width="1.7" />
<text x="370.1" y="2416.3" font-size="17" text-anchor="middle" letter-spacing="0.8" fill="#000" stroke="#000" stroke-width="0.35">11</text>
<line x1="457" y1="2381" x2="457" y2="2396" stroke="#262626" stroke-width="1.7" />
<text x="456.2" y="2416.3" font-size="17" text-anchor="middle" letter-spacing="0.8" fill="#000" stroke="#000" stroke-width="0.35">16</text>
<line x1="543.1" y1="2381" x2="543.1" y2="2396" stroke="#262626" stroke-width="1.7" />
<text x="542.3" y="2416.3" font-size="17" text-anchor="middle" letter-spacing="0.8" fill="#000" stroke="#000" stroke-width="0.35">21</text>
<line x1="629.2" y1="2381" x2="629.2" y2="2396" stroke="#262626" stroke-width="1.7" />
<text x="628.4" y="2416.3" font-size="17" text-anchor="middle" letter-spacing="0.8" fill="#000" stroke="#000" stroke-width="0.35">26</text>
<line x1="715.3" y1="2381" x2="715.3" y2="2396" stroke="#262626" stroke-width="1.7" />
<text x="714.5" y="2416.3" font-size="17" text-anchor="middle" letter-spacing="0.8" fill="#000" stroke="#000" stroke-width="0.35">31</text>
<line x1="801.4" y1="2381" x2="801.4" y2="2396" stroke="#262626" stroke-width="1.7" />
<text x="800.6" y="2416.3" font-size="17" text-anchor="middle" letter-spacing="0.8" fill="#000" stroke="#000" stroke-width="0.35">36</text>
<line x1="870.28" y1="2381" x2="870.28" y2="2396" stroke="#262626" stroke-width="1.7" />
<text x="869.48" y="2416.3" font-size="17" text-anchor="middle" letter-spacing="0.8" fill="#000" stroke="#000" stroke-width="0.35">40</text>
<line x1="215.92" y1="2381" x2="215.92" y2="2389" stroke="#262626" stroke-width="1.6" />
<line x1="233.14" y1="2381" x2="233.14" y2="2389" stroke="#262626" stroke-width="1.6" />
<line x1="250.36" y1="2381" x2="250.36" y2="2389" stroke="#262626" stroke-width="1.6" />
<line x1="267.58" y1="2381" x2="267.58" y2="2389" stroke="#262626" stroke-width="1.6" />
<line x1="302.02" y1="2381" x2="302.02" y2="2389" stroke="#262626" stroke-width="1.6" />
<line x1="319.24" y1="2381" x2="319.24" y2="2389" stroke="#262626" stroke-width="1.6" />
<line x1="336.46" y1="2381" x2="336.46" y2="2389" stroke="#262626" stroke-width="1.6" />
<line x1="353.68" y1="2381" x2="353.68" y2="2389" stroke="#262626" stroke-width="1.6" />
<line x1="388.12" y1="2381" x2="388.12" y2="2389" stroke="#262626" stroke-width="1.6" />
<line x1="405.34" y1="2381" x2="405.34" y2="2389" stroke="#262626" stroke-width="1.6" />
<line x1="422.56" y1="2381" x2="422.56" y2="2389" stroke="#262626" stroke-width="1.6" />
<line x1="439.78" y1="2381" x2="439.78" y2="2389" stroke="#262626" stroke-width="1.6" />
<line x1="474.22" y1="2381" x2="474.22" y2="2389" stroke="#262626" stroke-width="1.6" />
<line x1="491.44" y1="2381" x2="491.44" y2="2389" stroke="#262626" stroke-width="1.6" />
<line x1="508.66" y1="2381" x2="508.66" y2="2389" stroke="#262626" stroke-width="1.6" />
<line x1="525.88" y1="2381" x2="525.88" y2="2389" stroke="#262626" stroke-width="1.6" />
<line x1="560.32" y1="2381" x2="560.32" y2="2389" stroke="#262626" stroke-width="1.6" />
<line x1="577.54" y1="2381" x2="577.54" y2="2389" stroke="#262626" stroke-width="1.6" />
<line x1="594.76" y1="2381" x2="594.76" y2="2389" stroke="#262626" stroke-width="1.6" />
<line x1="611.98" y1="2381" x2="611.98" y2="2389" stroke="#262626" stroke-width="1.6" />
<line x1="646.42" y1="2381" x2="646.42" y2="2389" stroke="#262626" stroke-width="1.6" />
<line x1="663.64" y1="2381" x2="663.64" y2="2389" stroke="#262626" stroke-width="1.6" />
<line x1="680.86" y1="2381" x2="680.86" y2="2389" stroke="#262626" stroke-width="1.6" />
<line x1="698.08" y1="2381" x2="698.08" y2="2389" stroke="#262626" stroke-width="1.6" />
<line x1="732.52" y1="2381" x2="732.52" y2="2389" stroke="#262626" stroke-width="1.6" />
<line x1="749.74" y1="2381" x2="749.74" y2="2389" stroke="#262626" stroke-width="1.6" />
<line x1="766.96" y1="2381" x2="766.96" y2="2389" stroke="#262626" stroke-width="1.6" />
<line x1="784.18" y1="2381" x2="784.18" y2="2389" stroke="#262626" stroke-width="1.6" />
<line x1="818.62" y1="2381" x2="818.62" y2="2389" stroke="#262626" stroke-width="1.6" />
<line x1="835.84" y1="2381" x2="835.84" y2="2389" stroke="#262626" stroke-width="1.6" />
<line x1="853.06" y1="2381" x2="853.06" y2="2389" stroke="#262626" stroke-width="1.6" />
<line x1="166.3" y1="2380.9" x2="181.3" y2="2380.9" stroke="#262626" stroke-width="1.7" />
<text x="160.1" y="2388.7" font-size="21.5" text-anchor="end" letter-spacing="0.3" fill="#000" >0</text>
<line x1="166.3" y1="2248.08" x2="181.3" y2="2248.08" stroke="#262626" stroke-width="1.7" />
<text x="160.1" y="2255.88" font-size="21.5" text-anchor="end" letter-spacing="0.3" fill="#000" >20</text>
<line x1="166.3" y1="2115.26" x2="181.3" y2="2115.26" stroke="#262626" stroke-width="1.7" />
<text x="160.1" y="2123.06" font-size="21.5" text-anchor="end" letter-spacing="0.3" fill="#000" >40</text>
<line x1="166.3" y1="1982.44" x2="181.3" y2="1982.44" stroke="#262626" stroke-width="1.7" />
<text x="160.1" y="1990.24" font-size="21.5" text-anchor="end" letter-spacing="0.3" fill="#000" >60</text>
<line x1="166.3" y1="1849.62" x2="181.3" y2="1849.62" stroke="#262626" stroke-width="1.7" />
<text x="160.1" y="1857.42" font-size="21.5" text-anchor="end" letter-spacing="0.3" fill="#000" >80</text>
<line x1="166.3" y1="1716.8" x2="181.3" y2="1716.8" stroke="#262626" stroke-width="1.7" />
<text x="160.1" y="1724.6" font-size="21.5" text-anchor="end" letter-spacing="0.3" fill="#000" >100</text>
<line x1="173.3" y1="2347.7" x2="181.3" y2="2347.7" stroke="#262626" stroke-width="1.6" />
<line x1="173.3" y1="2314.49" x2="181.3" y2="2314.49" stroke="#262626" stroke-width="1.6" />
<line x1="173.3" y1="2281.29" x2="181.3" y2="2281.29" stroke="#262626" stroke-width="1.6" />
<line x1="173.3" y1="2214.88" x2="181.3" y2="2214.88" stroke="#262626" stroke-width="1.6" />
<line x1="173.3" y1="2181.67" x2="181.3" y2="2181.67" stroke="#262626" stroke-width="1.6" />
<line x1="173.3" y1="2148.47" x2="181.3" y2="2148.47" stroke="#262626" stroke-width="1.6" />
<line x1="173.3" y1="2082.06" x2="181.3" y2="2082.06" stroke="#262626" stroke-width="1.6" />
<line x1="173.3" y1="2048.85" x2="181.3" y2="2048.85" stroke="#262626" stroke-width="1.6" />
<line x1="173.3" y1="2015.64" x2="181.3" y2="2015.64" stroke="#262626" stroke-width="1.6" />
<line x1="173.3" y1="1949.24" x2="181.3" y2="1949.24" stroke="#262626" stroke-width="1.6" />
<line x1="173.3" y1="1916.03" x2="181.3" y2="1916.03" stroke="#262626" stroke-width="1.6" />
<line x1="173.3" y1="1882.83" x2="181.3" y2="1882.83" stroke="#262626" stroke-width="1.6" />
<line x1="173.3" y1="1816.41" x2="181.3" y2="1816.41" stroke="#262626" stroke-width="1.6" />
<line x1="173.3" y1="1783.21" x2="181.3" y2="1783.21" stroke="#262626" stroke-width="1.6" />
<line x1="173.3" y1="1750.01" x2="181.3" y2="1750.01" stroke="#262626" stroke-width="1.6" />
<text x="281.2" y="1942.9" font-size="27.5" text-anchor="middle" letter-spacing="0.45" fill="#000" >No-call region</text>
<text x="281.5" y="1975.6" font-size="27.5" text-anchor="middle" letter-spacing="0.45" fill="#000" >(HK model)</text>
<text x="282.8" y="2000" font-size="18" text-anchor="middle" letter-spacing="0.1" fill="#4a4a4a" >Tse <tspan font-style="italic">et al.,</tspan> PNAS 2021</text>
<line x1="276" y1="2010" x2="292.6" y2="2231" stroke="#000" stroke-width="2" />
<polygon points="285.9,2229.2 299.5,2228.2 293.5,2243.2" fill="#000"/>
<text x="9.8" y="1735.1" font-size="58.5" text-anchor="start" fill="#000" >E.</text>
<text x="102.5" y="2043.9" font-size="33" text-anchor="middle" letter-spacing="0.8" fill="#000" transform="rotate(-90 102.5 2043.9)" >Percentage of callable CpG sites (%)</text>
<text x="530" y="2451.8" font-size="33" text-anchor="middle" letter-spacing="0.7" fill="#000" >Relative distance close to</text>
<text x="550.2" y="2489.8" font-size="33" text-anchor="middle" letter-spacing="0.8" fill="#000" >the nearest end of DNA fragment (bp)</text>
<rect x="564.7" y="2266.7" width="290.2" height="99" fill="#ffffff" stroke="#d9d9d9" stroke-width="1.4" rx="5" fill-opacity="0.85"/>
<line x1="575.1" y1="2291.2" x2="641.2" y2="2291.2" stroke="#e4e657" stroke-width="4.2" />
<rect x="602.9" y="2284.3" width="13.8" height="13.8" fill="#e4e657" stroke="none" stroke-width="1" />
<text x="665" y="2302" font-size="30" font-weight="bold" text-anchor="start" letter-spacing="0.8" fill="#000" >HK model 2</text>
<line x1="575.1" y1="2336.5" x2="641.2" y2="2336.5" stroke="#62bd5d" stroke-width="4.2" />
<rect x="602.9" y="2329.6" width="13.8" height="13.8" fill="#62bd5d" stroke="none" stroke-width="1" />
<text x="665" y="2347.3" font-size="30" font-weight="bold" text-anchor="start" letter-spacing="0.8" fill="#000" >HK model 1</text>
<path d="M1256,2351 C1256.02,2325.83 1256.05,2250.17 1256.1,2200 C1256.15,2149.83 1256.22,2088.33 1256.3,2050 C1256.38,2011.67 1256.25,1988.77 1256.6,1970 C1256.95,1951.23 1257.73,1948.78 1258.4,1937.4 C1259.07,1926.02 1259.77,1911.97 1260.6,1901.7 C1261.43,1891.43 1262.08,1883.15 1263.4,1875.8 C1264.72,1868.45 1265.97,1864 1268.5,1857.6 C1271.03,1851.2 1273.88,1844.13 1278.6,1837.4 C1283.32,1830.67 1290.73,1823.43 1296.8,1817.2 C1302.87,1810.97 1307.93,1806.4 1315,1800 C1322.07,1793.6 1331.47,1784.7 1339.2,1778.8 C1346.93,1772.9 1353.65,1768.65 1361.4,1764.6 C1369.15,1760.55 1377.28,1757.35 1385.7,1754.5 C1394.12,1751.65 1402.48,1749.52 1411.9,1747.5 C1421.32,1745.48 1430.42,1743.75 1442.2,1742.4 C1453.98,1741.05 1469.13,1740.23 1482.6,1739.4 C1496.07,1738.57 1510.1,1737.9 1523,1737.4 C1535.9,1736.9 1538.83,1736.9 1560,1736.4 C1581.17,1735.9 1616.67,1735 1650,1734.4 C1683.33,1733.8 1719.78,1733.28 1760,1732.8 C1800.22,1732.32 1869.42,1731.72 1891.3,1731.5 L1256,2351 Z" fill="#dcedf5" stroke="none"/>
<path d="M1256,2351 C1256.02,2325.83 1256.05,2250.17 1256.1,2200 C1256.15,2149.83 1256.22,2088.33 1256.3,2050 C1256.38,2011.67 1256.25,1988.77 1256.6,1970 C1256.95,1951.23 1257.73,1948.78 1258.4,1937.4 C1259.07,1926.02 1259.77,1911.97 1260.6,1901.7 C1261.43,1891.43 1262.08,1883.15 1263.4,1875.8 C1264.72,1868.45 1265.97,1864 1268.5,1857.6 C1271.03,1851.2 1273.88,1844.13 1278.6,1837.4 C1283.32,1830.67 1290.73,1823.43 1296.8,1817.2 C1302.87,1810.97 1307.93,1806.4 1315,1800 C1322.07,1793.6 1331.47,1784.7 1339.2,1778.8 C1346.93,1772.9 1353.65,1768.65 1361.4,1764.6 C1369.15,1760.55 1377.28,1757.35 1385.7,1754.5 C1394.12,1751.65 1402.48,1749.52 1411.9,1747.5 C1421.32,1745.48 1430.42,1743.75 1442.2,1742.4 C1453.98,1741.05 1469.13,1740.23 1482.6,1739.4 C1496.07,1738.57 1510.1,1737.9 1523,1737.4 C1535.9,1736.9 1538.83,1736.9 1560,1736.4 C1581.17,1735.9 1616.67,1735 1650,1734.4 C1683.33,1733.8 1719.78,1733.28 1760,1732.8 C1800.22,1732.32 1869.42,1731.72 1891.3,1731.5" fill="none" stroke="#60abd2" stroke-width="3.6" stroke-linecap="square" stroke-linejoin="round"/>
<line x1="1223.6" y1="2381" x2="1922.9" y2="1700.8" stroke="#5e5e5e" stroke-width="1.6" stroke-dasharray="6.6,3.2"/>
<rect x="1223.6" y="1700.8" width="699.3" height="680.2" fill="none" stroke="#262626" stroke-width="1.7" />
<line x1="1255.8" y1="2381" x2="1255.8" y2="2396" stroke="#262626" stroke-width="1.7" />
<text x="1256.9" y="2420.7" font-size="23" text-anchor="middle" letter-spacing="2.2" fill="#000" >100</text>
<line x1="1382.9" y1="2381" x2="1382.9" y2="2396" stroke="#262626" stroke-width="1.7" />
<text x="1384" y="2420.7" font-size="23" text-anchor="middle" letter-spacing="2.2" fill="#000" >80</text>
<line x1="1510" y1="2381" x2="1510" y2="2396" stroke="#262626" stroke-width="1.7" />
<text x="1511.1" y="2420.7" font-size="23" text-anchor="middle" letter-spacing="2.2" fill="#000" >60</text>
<line x1="1637.1" y1="2381" x2="1637.1" y2="2396" stroke="#262626" stroke-width="1.7" />
<text x="1638.2" y="2420.7" font-size="23" text-anchor="middle" letter-spacing="2.2" fill="#000" >40</text>
<line x1="1764.2" y1="2381" x2="1764.2" y2="2396" stroke="#262626" stroke-width="1.7" />
<text x="1765.3" y="2420.7" font-size="23" text-anchor="middle" letter-spacing="2.2" fill="#000" >20</text>
<line x1="1891.3" y1="2381" x2="1891.3" y2="2396" stroke="#262626" stroke-width="1.7" />
<text x="1892.4" y="2420.7" font-size="23" text-anchor="middle" letter-spacing="2.2" fill="#000" >0</text>
<line x1="1859.53" y1="2381" x2="1859.53" y2="2389" stroke="#262626" stroke-width="1.6" />
<line x1="1827.75" y1="2381" x2="1827.75" y2="2389" stroke="#262626" stroke-width="1.6" />
<line x1="1795.97" y1="2381" x2="1795.97" y2="2389" stroke="#262626" stroke-width="1.6" />
<line x1="1732.42" y1="2381" x2="1732.42" y2="2389" stroke="#262626" stroke-width="1.6" />
<line x1="1700.65" y1="2381" x2="1700.65" y2="2389" stroke="#262626" stroke-width="1.6" />
<line x1="1668.88" y1="2381" x2="1668.88" y2="2389" stroke="#262626" stroke-width="1.6" />
<line x1="1605.33" y1="2381" x2="1605.33" y2="2389" stroke="#262626" stroke-width="1.6" />
<line x1="1573.55" y1="2381" x2="1573.55" y2="2389" stroke="#262626" stroke-width="1.6" />
<line x1="1541.78" y1="2381" x2="1541.78" y2="2389" stroke="#262626" stroke-width="1.6" />
<line x1="1478.22" y1="2381" x2="1478.22" y2="2389" stroke="#262626" stroke-width="1.6" />
<line x1="1446.45" y1="2381" x2="1446.45" y2="2389" stroke="#262626" stroke-width="1.6" />
<line x1="1414.67" y1="2381" x2="1414.67" y2="2389" stroke="#262626" stroke-width="1.6" />
<line x1="1351.12" y1="2381" x2="1351.12" y2="2389" stroke="#262626" stroke-width="1.6" />
<line x1="1319.35" y1="2381" x2="1319.35" y2="2389" stroke="#262626" stroke-width="1.6" />
<line x1="1287.58" y1="2381" x2="1287.58" y2="2389" stroke="#262626" stroke-width="1.6" />
<line x1="1208.6" y1="2351" x2="1223.6" y2="2351" stroke="#262626" stroke-width="1.7" />
<text x="1203.3" y="2360" font-size="23" text-anchor="end" letter-spacing="2.2" fill="#000" >0</text>
<line x1="1208.6" y1="2227.1" x2="1223.6" y2="2227.1" stroke="#262626" stroke-width="1.7" />
<text x="1203.3" y="2236.1" font-size="23" text-anchor="end" letter-spacing="2.2" fill="#000" >20</text>
<line x1="1208.6" y1="2103.2" x2="1223.6" y2="2103.2" stroke="#262626" stroke-width="1.7" />
<text x="1203.3" y="2112.2" font-size="23" text-anchor="end" letter-spacing="2.2" fill="#000" >40</text>
<line x1="1208.6" y1="1979.3" x2="1223.6" y2="1979.3" stroke="#262626" stroke-width="1.7" />
<text x="1203.3" y="1988.3" font-size="23" text-anchor="end" letter-spacing="2.2" fill="#000" >60</text>
<line x1="1208.6" y1="1855.4" x2="1223.6" y2="1855.4" stroke="#262626" stroke-width="1.7" />
<text x="1203.3" y="1864.4" font-size="23" text-anchor="end" letter-spacing="2.2" fill="#000" >80</text>
<line x1="1208.6" y1="1731.5" x2="1223.6" y2="1731.5" stroke="#262626" stroke-width="1.7" />
<text x="1203.3" y="1740.5" font-size="23" text-anchor="end" letter-spacing="2.2" fill="#000" >100</text>
<line x1="1215.6" y1="2320.03" x2="1223.6" y2="2320.03" stroke="#262626" stroke-width="1.6" />
<line x1="1215.6" y1="2289.05" x2="1223.6" y2="2289.05" stroke="#262626" stroke-width="1.6" />
<line x1="1215.6" y1="2258.07" x2="1223.6" y2="2258.07" stroke="#262626" stroke-width="1.6" />
<line x1="1215.6" y1="2196.12" x2="1223.6" y2="2196.12" stroke="#262626" stroke-width="1.6" />
<line x1="1215.6" y1="2165.15" x2="1223.6" y2="2165.15" stroke="#262626" stroke-width="1.6" />
<line x1="1215.6" y1="2134.18" x2="1223.6" y2="2134.18" stroke="#262626" stroke-width="1.6" />
<line x1="1215.6" y1="2072.22" x2="1223.6" y2="2072.22" stroke="#262626" stroke-width="1.6" />
<line x1="1215.6" y1="2041.25" x2="1223.6" y2="2041.25" stroke="#262626" stroke-width="1.6" />
<line x1="1215.6" y1="2010.28" x2="1223.6" y2="2010.28" stroke="#262626" stroke-width="1.6" />
<line x1="1215.6" y1="1948.33" x2="1223.6" y2="1948.33" stroke="#262626" stroke-width="1.6" />
<line x1="1215.6" y1="1917.35" x2="1223.6" y2="1917.35" stroke="#262626" stroke-width="1.6" />
<line x1="1215.6" y1="1886.38" x2="1223.6" y2="1886.38" stroke="#262626" stroke-width="1.6" />
<line x1="1215.6" y1="1824.42" x2="1223.6" y2="1824.42" stroke="#262626" stroke-width="1.6" />
<line x1="1215.6" y1="1793.45" x2="1223.6" y2="1793.45" stroke="#262626" stroke-width="1.6" />
<line x1="1215.6" y1="1762.47" x2="1223.6" y2="1762.47" stroke="#262626" stroke-width="1.6" />
<text x="1043" y="1731.5" font-size="58.5" text-anchor="start" fill="#000" >F.</text>
<text x="1143.5" y="2045.5" font-size="33" text-anchor="middle" letter-spacing="1" fill="#000" transform="rotate(-90 1143.5 2045.5)" >Sensitivity (%)</text>
<text x="1573" y="2457.4" font-size="33" text-anchor="middle" letter-spacing="1" fill="#000" >Specificity (%)</text>
<text x="1772" y="2258.4" font-size="30" font-weight="bold" text-anchor="middle" letter-spacing="0.8" fill="#000" >HK model 2</text>
<rect x="1563.9" y="2319.3" width="54.2" height="7.8" fill="#60abd2" stroke="none" stroke-width="1" />
<text x="1770" y="2302.7" font-size="24.5" text-anchor="middle" letter-spacing="0.6" fill="#000" >The CpG site within 10 nt</text>
<text x="1774.3" y="2328.8" font-size="24.5" text-anchor="middle" letter-spacing="0.6" fill="#000" >of 5′ end of fragment</text>
<text x="1762.3" y="2359.6" font-size="24.5" font-weight="bold" text-anchor="middle" letter-spacing="0.6" fill="#000" >(AUC: 0.97)</text>
</svg>
</body></html>
